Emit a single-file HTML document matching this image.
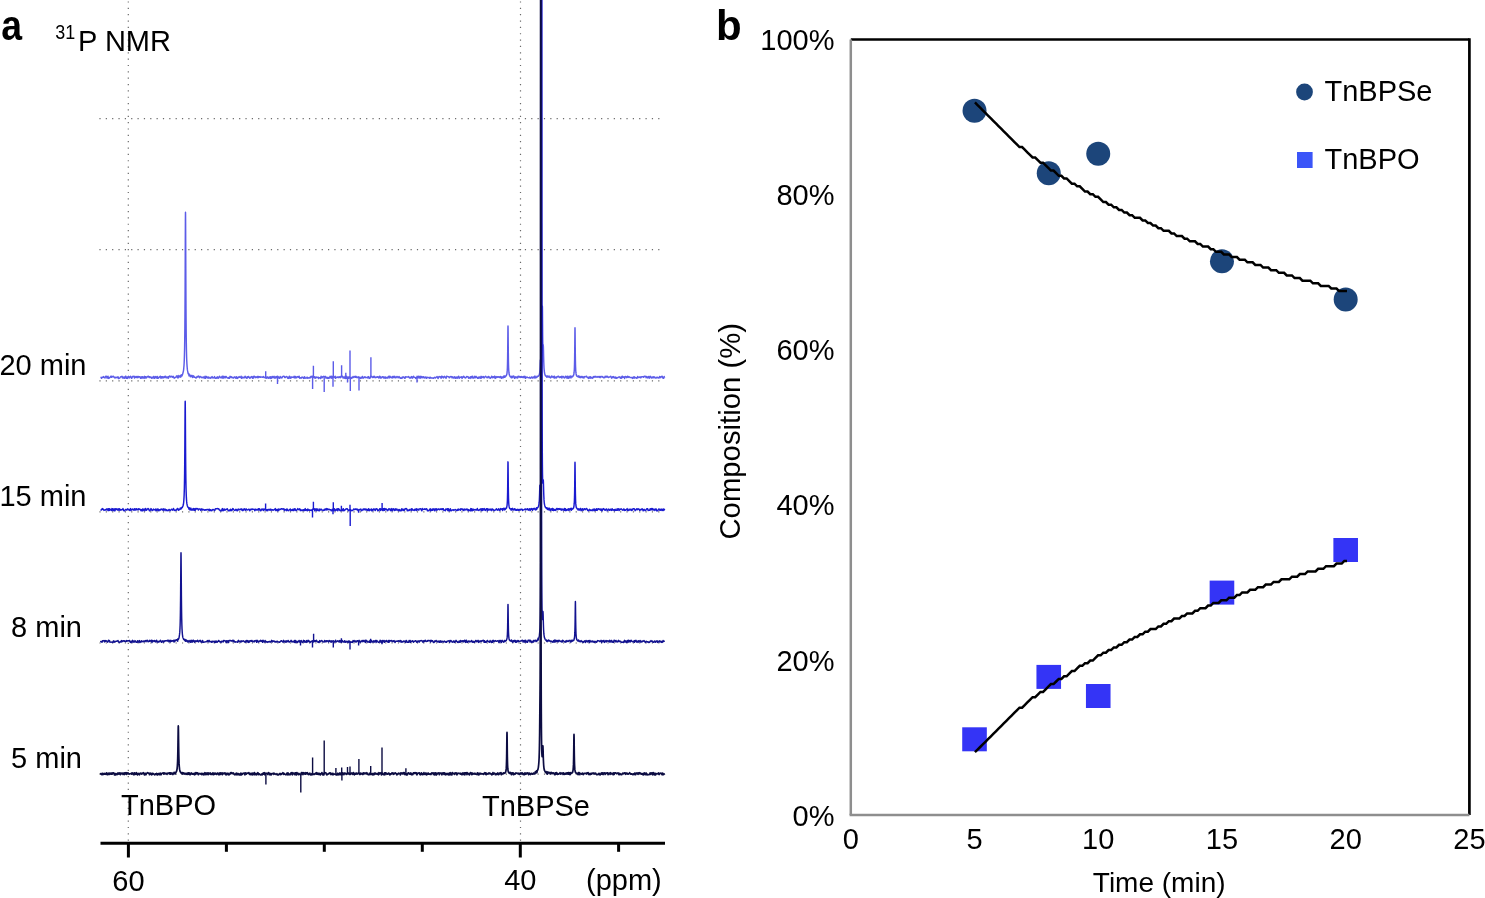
<!DOCTYPE html>
<html><head><meta charset="utf-8"><title>Figure</title>
<style>
html,body{margin:0;padding:0;background:#fff;}
body{width:1485px;height:898px;position:relative;overflow:hidden;font-family:"Liberation Sans", sans-serif;}
</style></head>
<body>
<svg width="1485" height="898" viewBox="0 0 1485 898" style="position:absolute;left:0;top:0;will-change:transform"><line x1="128.3" y1="1.4" x2="128.3" y2="842" stroke="#6a6a6a" stroke-width="1.2" stroke-dasharray="1.2 5.15"/><line x1="520.5" y1="1.4" x2="520.5" y2="842" stroke="#6a6a6a" stroke-width="1.2" stroke-dasharray="1.2 5.15"/><line x1="99.4" y1="118.6" x2="662" y2="118.6" stroke="#6a6a6a" stroke-width="1.2" stroke-dasharray="1.2 5.15"/><line x1="99.4" y1="249.7" x2="662" y2="249.7" stroke="#6a6a6a" stroke-width="1.2" stroke-dasharray="1.2 5.15"/><line x1="99.4" y1="380.8" x2="662" y2="380.8" stroke="#6a6a6a" stroke-width="1.2" stroke-dasharray="1.2 5.15"/><line x1="99.4" y1="511.9" x2="662" y2="511.9" stroke="#6a6a6a" stroke-width="1.2" stroke-dasharray="1.2 5.15"/><line x1="99.4" y1="643" x2="662" y2="643" stroke="#6a6a6a" stroke-width="1.2" stroke-dasharray="1.2 5.15"/><line x1="99.4" y1="774.1" x2="662" y2="774.1" stroke="#6a6a6a" stroke-width="1.2" stroke-dasharray="1.2 5.15"/><path d="M100.5,377.19 101,377.43 101.5,378.27 102,377.22 102.5,377.31 103,377.5 103.5,376.57 104,377.32 104.5,377.59 105,377.97 105.5,376.36 106,376.84 106.5,376.35 107,378.01 107.5,377.74 108,376.24 108.5,378.4 109,378.36 109.5,377.65 110,377.56 110.5,376.51 111,376.18 111.5,377.36 112,376.28 112.5,376.58 113,376.7 113.5,376.21 114,377.21 114.5,377.16 115,378.08 115.5,377.34 116,377.62 116.5,377.29 117,377.67 117.5,377.2 118,376.78 118.5,378.44 119,378.43 119.5,378.08 120,377.77 120.5,376.87 121,376.67 121.5,376.81 122,376.3 122.5,377.91 123,377.06 123.5,378.09 124,377.03 124.5,378.35 125,378.09 125.5,376.14 126,376.62 126.5,378.24 127,377.22 127.5,378.4 128,377.06 128.5,376.31 129,377.59 129.5,377.93 130,376.76 130.5,376.34 131,376.91 131.5,378.36 132,377.88 132.5,376.41 133,376.71 133.5,376.37 134,376.28 134.5,377.97 135,376.55 135.5,377.42 136,377.17 136.5,376.58 137,377.82 137.5,376.44 138,377.62 138.5,376.4 139,377.1 139.5,376.63 140,376.76 140.5,378.37 141,377.98 141.5,376.83 142,378.17 142.5,376.62 143,377.04 143.5,378.1 144,377.61 144.5,376.36 145,378.41 145.5,376.62 146,376.73 146.5,377.91 147,376.89 147.5,376.81 148,376.3 148.5,376.34 149,377.47 149.5,376.69 150,377.51 150.5,376.98 151,377.17 151.5,378.33 152,377.24 152.5,377.44 153,378.12 153.5,376.54 154,376.48 154.5,378.21 155,378 155.5,376.69 156,376.55 156.5,377.82 157,378.28 157.5,376.56 158,378.3 158.5,378.14 159,377.5 159.5,377.08 160,376.34 160.5,376.19 161,378.32 161.5,376.65 162,377.72 162.5,376.69 163,377.99 163.5,377.46 164,376.76 164.5,376.49 165,377.74 165.5,376.24 166,376.6 166.5,377.36 167,378.03 167.5,377.47 168,376.7 168.5,378.16 169,376.51 169.5,376.07 170,376.65 170.5,377.05 171,376.15 171.5,376.41 172,376.84 172.5,377.29 173,376.27 173.5,376.78 174,377.98 174.5,378.16 175,377.4 175.5,377.45 176,377.17 176.4,376.12 176.8,375.85 177.2,375.77 177.6,377.78 178,377.25 178.4,377.79 178.8,375.55 179.2,376.88 179.6,376.43 180,376.87 180.4,375.77 180.8,377.14 181.2,374.76 181.6,375.51 181.8,375.75 182,375.88 182.2,375.22 182.4,374.79 182.6,374.09 182.8,373.65 183,372.68 183.2,372.09 183.4,371.19 183.6,369.84 183.8,367.76 184,365.48 184.2,361.92 184.25,360.61 184.3,359.37 184.35,357.81 184.4,356.36 184.45,354.61 184.5,352.31 184.55,350.41 184.6,348.09 184.65,345.15 184.7,341.79 184.75,337.84 184.8,333.76 184.85,328.75 184.9,323 184.95,316.73 185,308.79 185.05,300.63 185.1,290.5 185.15,279.98 185.2,268.03 185.25,255.3 185.3,242.92 185.35,230.96 185.4,221.22 185.45,214.86 185.5,212.15 185.55,214.31 185.6,221.03 185.65,231.07 185.7,242.62 185.75,255.27 185.8,268.29 185.85,280.02 185.9,290.74 185.95,300.72 186,308.94 186.05,316.62 186.1,322.86 186.15,328.66 186.2,333.81 186.25,338.16 186.3,341.88 186.35,344.85 186.4,347.84 186.45,350.21 186.5,352.34 186.55,354.54 186.6,356.51 186.65,358.09 186.7,359.42 186.75,360.83 186.8,361.57 186.85,362.54 186.9,363.65 186.95,364.39 187,365.13 187.2,367.76 187.4,369.69 187.6,370.95 187.8,371.86 188,372.97 188.2,373.69 188.4,373.88 188.6,373.35 188.8,373.59 189,375.82 189.2,374.15 189.4,375.89 189.6,375.75 190,375.44 190.4,376.77 190.8,375.16 191.2,375.57 191.6,376.42 192,375.52 192.4,377.45 192.8,376.15 193.2,375.98 193.6,375.82 194,377.2 194.4,376.81 194.8,377.26 195.2,377.35 195.6,377.72 196.1,378.1 196.6,377.49 197.1,376.39 197.6,377.04 198.1,376.38 198.6,376.01 199.1,377.08 199.6,377.65 200.1,376.43 200.6,376.65 201.1,376.83 201.6,377.64 202.1,377.24 202.6,377.46 203.1,377.8 203.6,376.97 204.1,377.89 204.6,378.15 205.1,376.27 205.6,378.22 206.1,377.74 206.6,376.38 207.1,377.13 207.6,377.53 208.1,378.19 208.6,376.96 209.1,377.41 209.6,378.12 210.1,377.93 210.6,378.28 211.1,377.17 211.6,377.61 212.1,376.58 212.6,377.77 213.1,377.99 213.6,377.59 214.1,377.76 214.6,376.61 215.1,378.19 215.6,378.37 216.1,378.37 216.6,377.35 217.1,377.94 217.6,376.86 218.1,378.22 218.6,378.09 219.1,376.93 219.6,376.32 220.1,377.14 220.6,377.39 221.1,377.89 221.6,377.25 222.1,376.19 222.6,377.99 223.1,376.28 223.6,377.97 224.1,376.53 224.6,376.9 225.1,377.94 225.6,376.45 226.1,376.47 226.6,377.32 227.1,377.8 227.6,378.07 228.1,377.72 228.6,378.31 229.1,377.27 229.6,378.32 230.1,376.33 230.6,376.64 231.1,377.35 231.6,376.8 232.1,377.81 232.6,377.61 233.1,377.34 233.6,378.08 234.1,377.43 234.6,376.85 235.1,377.01 235.6,378.08 236.1,378.21 236.6,376.62 237.1,378.1 237.6,378.37 238.1,377.34 238.6,377.46 239.1,376.6 239.6,377.37 240.1,377.3 240.6,377.53 241.1,376.2 241.6,378.37 242.1,377.33 242.6,377.06 243.1,377.98 243.6,377.44 244.1,377.27 244.6,377.73 245.1,376.29 245.6,377.38 246.1,377.09 246.6,378.34 247.1,378.27 247.6,376.76 248.1,377.23 248.6,376.43 249.1,377.14 249.6,378.02 250.1,378.21 250.6,377.24 251.1,376.87 251.6,376.58 252.1,377.56 252.6,378.27 253.1,376.44 253.6,377.94 254.1,376.2 254.6,376.59 255.1,376.67 255.6,377.72 256.1,376.88 256.6,376.96 257.1,377.57 257.6,376.39 258.1,377.83 258.6,376.43 259.1,377.32 259.6,376.72 260.1,376.6 260.6,377.36 261.1,377.15 261.6,377.01 262.1,377.1 262.6,377.36 263.1,376.51 263.6,376.61 264.1,377.6 264.6,377.61 265.1,377.36 265.6,378.1 266.1,377.55 266.6,378.12 267.1,376.68 267.6,377.85 268.1,378.01 268.6,378.22 269.1,376.87 269.6,376.87 270.1,378.27 270.6,376.65 271.1,378.44 271.6,378.19 272.1,376.45 272.6,376.7 273.1,377.82 273.6,376.74 274.1,376.37 274.6,378.06 275.1,377.12 275.6,377.96 276.1,376.44 276.6,377.07 277.1,377.72 277.6,376.19 278.1,376.61 278.6,377.72 279.1,378.24 279.6,378.37 280.1,376.41 280.6,377.31 281.1,377.89 281.6,377.3 282.1,377.72 282.6,376.58 283.1,376.31 283.6,376.39 284.1,376.23 284.6,377.42 285.1,377.33 285.6,377.45 286.1,376.48 286.6,376.57 287.1,376.62 287.6,378.08 288.1,378.42 288.6,378.28 289.1,376.37 289.6,376.29 290.1,378.34 290.6,377.21 291.1,377.91 291.6,376.9 292.1,377.22 292.6,377.33 293.1,377.14 293.6,377.53 294.1,376.18 294.6,377.76 295.1,378.09 295.6,376.56 296.1,377.19 296.6,377.85 297.1,377.08 297.6,376.6 298.1,376.53 298.6,377.33 299.1,376.18 299.6,378.2 300.1,377.99 300.6,377.77 301.1,378.13 301.6,377.6 302.1,377.08 302.6,377.53 303.1,377.31 303.6,378.41 304.1,378 304.6,376.74 305.1,378.24 305.6,377.86 306.1,377.94 306.6,378.02 307.1,377.08 307.6,378.21 308.1,378.17 308.6,377.75 309.1,377.91 309.6,377.91 310.1,377.08 310.6,377.81 311.1,376.31 311.6,376.93 312.1,377.23 312.6,376.17 313.1,376.97 313.6,377.62 314.1,377.58 314.6,376.68 315.1,378.32 315.6,377.68 316.1,376.92 316.6,377.67 317.1,377.46 317.6,377.37 318.1,377.04 318.6,378.45 319.1,377.63 319.6,377.76 320.1,377.9 320.6,378.4 321.1,376.2 321.6,377.56 322.1,377.85 322.6,376.74 323.1,377.07 323.6,376.26 324.1,376.6 324.6,377.01 325.1,376.37 325.6,376.73 326.1,378.23 326.6,377.41 327.1,377.32 327.6,378.37 328.1,377.45 328.6,378.44 329.1,377.62 329.6,378.01 330.1,376.32 330.6,377.52 331.1,377.89 331.6,376.25 332.1,378.29 332.6,376.52 333.1,377.23 333.6,376.54 334.1,377.29 334.6,377.55 335.1,376.28 335.6,378.32 336.1,377.12 336.6,377.36 337.1,377.52 337.6,376.99 338.1,376.81 338.6,377.65 339.1,377.44 339.6,376.8 340.1,377.8 340.6,376.83 341.1,376.18 341.6,376.71 342.1,376.25 342.6,376.51 343.1,377.88 343.6,377.05 344.1,378.21 344.6,377.87 345.1,376.26 345.6,378.42 346.1,378.32 346.6,376.32 347.1,378.23 347.6,377.14 348.1,377.25 348.6,378.39 349.1,376.71 349.6,377.35 350.1,378.3 350.6,377.81 351.1,377.23 351.6,378.4 352.1,378.03 352.6,377.54 353.1,376.41 353.6,377.58 354.1,377.2 354.6,376.62 355.1,376.27 355.6,377.36 356.1,376.43 356.6,377.17 357.1,377.68 357.6,377.2 358.1,376.75 358.6,377.49 359.1,377.11 359.6,377.94 360.1,377.37 360.6,378.44 361.1,378.34 361.6,377.84 362.1,376.7 362.6,376.41 363.1,378.2 363.6,377.95 364.1,377.59 364.6,376.97 365.1,376.77 365.6,377.72 366.1,377.45 366.6,377.51 367.1,377.6 367.6,377.88 368.1,376.58 368.6,376.72 369.1,378.4 369.6,378.25 370.1,378.17 370.6,376.24 371.1,376.29 371.6,376.77 372.1,377.13 372.6,377.58 373.1,376.38 373.6,377.39 374.1,376.32 374.6,376.35 375.1,377.7 375.6,377.41 376.1,377.6 376.6,377.01 377.1,377.25 377.6,376.63 378.1,376.94 378.6,377.86 379.1,378.08 379.6,376.32 380.1,376.42 380.6,378.01 381.1,377.58 381.6,377.92 382.1,376.64 382.6,377.12 383.1,376.74 383.6,378.01 384.1,377 384.6,377.65 385.1,378.42 385.6,376.9 386.1,377.41 386.6,377.86 387.1,378.27 387.6,377.13 388.1,377 388.6,376.37 389.1,378.16 389.6,376.33 390.1,376.34 390.6,377.45 391.1,377.26 391.6,377.72 392.1,376.84 392.6,377.93 393.1,376.32 393.6,376.64 394.1,377.67 394.6,376.34 395.1,376.85 395.6,377.82 396.1,377.74 396.6,376.8 397.1,376.48 397.6,376.97 398.1,377.82 398.6,376.99 399.1,376.42 399.6,377.78 400.1,377.46 400.6,378.26 401.1,378.31 401.6,378.25 402.1,377.16 402.6,378 403.1,376.85 403.6,376.88 404.1,377.07 404.6,378.3 405.1,378.21 405.6,376.72 406.1,376.98 406.6,376.99 407.1,376.98 407.6,377.06 408.1,377.04 408.6,376.6 409.1,377.44 409.6,377.98 410.1,377.39 410.6,378.07 411.1,377.44 411.6,376.55 412.1,377.89 412.6,378.17 413.1,376.8 413.6,376.2 414.1,377.33 414.6,377.4 415.1,377.45 415.6,378.37 416.1,377.65 416.6,378 417.1,376.3 417.6,377.41 418.1,377.96 418.6,376.34 419.1,376.34 419.6,377.84 420.1,378.22 420.6,376.34 421.1,377.61 421.6,376.48 422.1,377.86 422.6,377.64 423.1,376.71 423.6,376.65 424.1,377.91 424.6,377.35 425.1,377.91 425.6,377.05 426.1,376.92 426.6,378.37 427.1,377.69 427.6,377.28 428.1,377.38 428.6,377.81 429.1,377.78 429.6,378.25 430.1,377.09 430.6,378.05 431.1,377.68 431.6,378.11 432.1,378 432.6,378.07 433.1,378.19 433.6,378.35 434.1,377.62 434.6,377.35 435.1,377.78 435.6,377.99 436.1,377.12 436.6,377.11 437.1,376.48 437.6,377.85 438.1,378.43 438.6,377.01 439.1,376.53 439.6,376.62 440.1,377.12 440.6,376.82 441.1,378.38 441.6,376.28 442.1,376.86 442.6,376.41 443.1,377.64 443.6,377.93 444.1,376.56 444.6,376.29 445.1,377.2 445.6,377.49 446.1,378.24 446.6,376.23 447.1,376.4 447.6,376.57 448.1,376.65 448.6,376.69 449.1,377.8 449.6,377.51 450.1,376.66 450.6,376.57 451.1,376.79 451.6,376.54 452.1,377.89 452.6,376.86 453.1,377.41 453.6,378.03 454.1,377.25 454.6,376.74 455.1,378.19 455.6,378.25 456.1,376.93 456.6,377.4 457.1,378.35 457.6,377.26 458.1,376.65 458.6,376.26 459.1,378.32 459.6,377.99 460.1,377.03 460.6,377.36 461.1,377.33 461.6,376.78 462.1,378.42 462.6,377.66 463.1,376.69 463.6,376.17 464.1,377.23 464.6,377 465.1,377.98 465.6,377.78 466.1,377.54 466.6,376.51 467.1,376.51 467.6,376.88 468.1,376.74 468.6,378.14 469.1,377.33 469.6,377.61 470.1,378.43 470.6,376.76 471.1,377.37 471.6,376.49 472.1,377.91 472.6,376.15 473.1,378.03 473.6,378.09 474.1,378.03 474.6,376.33 475.1,376.76 475.6,377.79 476.1,376.37 476.6,377.25 477.1,377.22 477.6,378.34 478.1,377.49 478.6,378.11 479.1,376.84 479.6,377.96 480.1,377.1 480.6,378.25 481.1,376.35 481.6,378.04 482.1,376.62 482.6,377.39 483.1,377.35 483.6,376.5 484.1,378.05 484.6,376.85 485.1,376.85 485.6,376.31 486.1,376.84 486.6,377.21 487.1,377.78 487.6,376.96 488.1,377.71 488.6,376.38 489.1,377.04 489.6,377.19 490.1,378.35 490.6,378.04 491.1,377.63 491.6,376.16 492.1,376.99 492.6,377.76 493.1,376.67 493.6,377.42 494.1,377.17 494.6,376.14 495.1,378.4 495.6,377.95 496.1,376.59 496.6,377.52 497.1,376.77 497.6,376.96 498.1,377.34 498.5,376.78 498.9,376.86 499.3,376.98 499.7,377.61 500.1,376.66 500.5,376.52 500.9,377.73 501.3,376.8 501.7,378.2 502.1,377.3 502.5,377.65 502.9,376.73 503.3,377.83 503.7,376.1 504.1,376.16 504.3,376.02 504.5,377.32 504.7,377.35 504.9,376.08 505.1,376.69 505.3,376.87 505.5,376.62 505.7,376.18 505.9,376.1 506.1,375.83 506.3,375.51 506.5,375.26 506.7,374.44 506.75,374.75 506.8,374.23 506.85,374.03 506.9,373.82 506.95,373.58 507,373.24 507.05,372.57 507.1,372.06 507.15,371.55 507.2,370.67 507.25,370.15 507.3,369.45 507.35,368.57 507.4,367.2 507.45,365.62 507.5,363.77 507.55,361.21 507.6,358.72 507.65,355.47 507.7,351.73 507.75,346.78 507.8,341.7 507.85,336.25 507.9,331.29 507.95,327.57 508,326.05 508.05,327.17 508.1,331.28 508.15,336.49 508.2,341.8 508.25,346.92 508.3,351.64 508.35,355.35 508.4,358.95 508.45,361.79 508.5,363.72 508.55,365.65 508.6,367.23 508.65,368.1 508.7,369.59 508.75,370.29 508.8,370.78 508.85,371.35 508.9,372 508.95,372.68 509,373.17 509.05,373.31 509.1,373.99 509.15,373.93 509.2,374.25 509.25,374.27 509.3,374.98 509.35,374.65 509.4,375.28 509.45,375.21 509.5,375.35 509.7,375.77 509.9,375.9 510.1,376.51 510.3,376.72 510.5,376.75 510.7,376.72 510.9,376.52 511.1,377.56 511.3,376.38 511.5,377.82 511.7,376.35 511.9,377.15 512.1,377.77 512.5,376.33 512.9,377.2 513.3,376.14 513.7,376.06 514.1,376.42 514.5,378.29 514.9,378.19 515.3,377.56 515.7,376.76 516.1,377.6 516.5,377.76 516.9,376.95 517.3,377.43 517.7,377.93 518.1,376.12 518.6,376.54 519.1,377.16 519.6,376.42 520.1,376.98 520.6,377.4 521.1,376.49 521.6,377.29 522.1,376.7 522.6,377.4 523.1,376.86 523.6,377.57 524.1,376.18 524.6,377.63 525.1,376.42 525.6,378.29 526.1,377.46 526.6,377.16 527.1,377.02 527.6,377.51 528.1,377.65 528.6,377.81 529.1,377.79 529.6,377.17 530.1,378.33 530.6,377.97 531,378 531.4,376.96 531.8,377.01 532.2,377.31 532.6,378.08 533,377.19 533.4,377.17 533.8,376.94 534.2,378.01 534.6,376.64 535,376 535.4,377.51 535.8,377.87 536.2,377.43 536.6,377.06 536.8,377.38 537,376.3 537.2,376.92 537.4,376.39 537.6,376.35 537.8,376.46 538,376.4 538.2,376.21 538.4,375.86 538.6,376.05 538.8,375.71 539,375.2 539.05,375.14 539.1,375.08 539.15,374.87 539.2,374.63 539.25,374.99 539.3,374.86 539.35,374.5 539.4,374.42 539.45,373.93 539.5,373.91 539.55,373.28 539.6,373.27 539.65,372.8 539.7,372.58 539.75,371.62 539.8,371.49 539.85,370.46 539.9,369.98 539.95,369.4 540,367.88 540.05,366.95 540.1,365.8 540.15,364.54 540.2,363.08 540.25,362.33 540.3,361.22 540.35,360.22 540.4,359.87 540.45,360.15 540.5,360.39 540.55,361.26 540.6,362.84 540.65,363.6 540.7,364.79 540.75,366.03 540.8,366.92 540.85,367.34 540.9,367.77 540.95,368.3 541,369.04 541.05,369.28 541.1,369.03 541.15,369.49 541.2,369.19 541.25,369.18 541.3,368.83 541.35,369.01 541.4,368.74 541.45,367.84 541.5,367.57 541.55,366.65 541.6,366.28 541.65,364.84 541.7,363.74 541.75,362.76 541.8,360.88 541.85,359.25 541.9,356.84 541.95,353.84 542,349.96 542.05,346 542.1,340.98 542.15,334.6 542.2,327.48 542.25,320.28 542.3,313.5 542.35,308.63 542.4,306.16 542.45,307.47 542.5,311.75 542.55,317.94 542.6,324.37 542.65,330.01 542.7,335.18 542.75,339.29 542.8,342.1 542.85,343.99 542.9,345.37 542.95,346.44 543,346.46 543.05,346.02 543.1,345.79 543.15,344.95 543.2,345.12 543.25,344.74 543.3,345.19 543.35,346.12 543.4,347.25 543.45,349.39 543.5,351.26 543.55,353.41 543.6,355.88 543.65,357.5 543.7,359.51 543.75,361.51 543.8,362.74 543.85,364.13 543.9,365.5 543.95,366.36 544,367.73 544.05,368.62 544.1,368.78 544.15,369.69 544.2,370.45 544.25,370.75 544.3,371.54 544.35,371.7 544.4,371.88 544.45,372.45 544.5,372.81 544.55,372.92 544.6,373.35 544.65,373.66 544.7,373.71 544.75,373.9 544.8,374.28 544.85,374.35 545.05,374.8 545.25,375.46 545.45,375.31 545.65,375.92 545.85,375.75 546.05,376.18 546.25,376.09 546.45,376.23 546.65,377.08 546.85,377.2 547.05,377.28 547.25,376.06 547.45,376.69 547.85,376.16 548.25,377.06 548.65,376.92 549.05,375.9 549.45,377.23 549.85,377.53 550.25,377.23 550.65,377.94 551.05,376.37 551.45,376.32 551.85,376.03 552.25,377.14 552.65,377.01 553.05,377.03 553.45,376.63 553.95,377.87 554.45,376.21 554.95,378.14 555.45,377.36 555.95,377.31 556.45,377.89 556.95,376.62 557.45,376.41 557.95,376.79 558.45,376.18 558.95,376.8 559.45,377.51 559.95,377.29 560.45,376.69 560.95,377.44 561.45,376.29 561.95,377.97 562.45,376.48 562.95,376.67 563.45,376.45 563.95,377.67 564.45,377.99 564.95,377.89 565.45,376.22 565.85,377.02 566.25,376.91 566.65,376.56 567.05,378.29 567.45,376.15 567.85,377.17 568.25,377.78 568.65,378.29 569.05,376.34 569.45,377.03 569.85,377.68 570.25,376.03 570.65,376.45 571.05,377.9 571.25,376.14 571.45,376.69 571.65,376.43 571.85,376.67 572.05,376.52 572.25,376.42 572.45,376.91 572.65,376.65 572.85,376.48 573.05,375.98 573.25,375.73 573.45,375.54 573.65,374.81 573.7,374.77 573.75,374.86 573.8,374.3 573.85,374.05 573.9,374.16 573.95,373.63 574,372.94 574.05,372.76 574.1,372.45 574.15,371.56 574.2,371.11 574.25,370.6 574.3,369.85 574.35,368.68 574.4,367.66 574.45,365.96 574.5,364.17 574.55,362.32 574.6,359.47 574.65,356.57 574.7,352.47 574.75,348.1 574.8,342.97 574.85,337.88 574.9,332.71 574.95,329.14 575,327.81 575.05,329.3 575.1,332.8 575.15,337.81 575.2,343.45 575.25,348.3 575.3,352.85 575.35,356.23 575.4,359.47 575.45,361.86 575.5,364.35 575.55,365.9 575.6,367.29 575.65,368.34 575.7,369.45 575.75,370.34 575.8,371.14 575.85,372.08 575.9,372.49 575.95,372.68 576,373.13 576.05,373.36 576.1,374.14 576.15,374.06 576.2,374.55 576.25,374.74 576.3,375.04 576.35,374.68 576.4,375.02 576.45,375.19 576.5,375.14 576.55,375.74 576.75,375.78 576.95,376.31 577.15,376.36 577.35,376.23 577.55,376.55 577.75,376.55 577.95,376.51 578.15,376.04 578.35,377.12 578.55,375.86 578.75,376.54 578.95,376.83 579.15,377.13 579.55,376.24 579.95,377.58 580.35,376.58 580.75,377.67 581.15,377.56 581.55,376.38 581.95,376.52 582.35,376.7 582.75,377.71 583.15,377.01 583.55,376.97 583.95,378.08 584.35,376.61 584.75,376.77 585.15,376.89 585.65,376.6 586.15,376.2 586.65,376.17 587.15,377.56 587.65,377.42 588.15,377.98 588.65,378.36 589.15,376.81 589.65,377.66 590.15,378.24 590.65,376.62 591.15,377.71 591.65,377.66 592.15,378.33 592.65,378.13 593.15,376.67 593.65,377.59 594.15,376.34 594.65,377.12 595.15,377.04 595.65,376.27 596.15,377.02 596.65,376.89 597.15,377.28 597.65,376.78 598.15,376.5 598.65,377.06 599.15,377.23 599.65,376.52 600.15,377.67 600.65,376.69 601.15,376.35 601.65,376.93 602.15,377.11 602.65,376.49 603.15,377.48 603.65,377.75 604.15,377.41 604.65,377.75 605.15,376.19 605.65,377.04 606.15,376.98 606.65,376.29 607.15,377.07 607.65,376.27 608.15,377.28 608.65,377.49 609.15,377.22 609.65,376.89 610.15,376.73 610.65,376.2 611.15,376.94 611.65,378.19 612.15,377.44 612.65,376.75 613.15,377.68 613.65,376.57 614.15,377.22 614.65,377.56 615.15,378.34 615.65,376.98 616.15,377.47 616.65,378.31 617.15,377.92 617.65,377.59 618.15,377.57 618.65,377.09 619.15,377.1 619.65,376.78 620.15,378.05 620.65,378.17 621.15,377.02 621.65,378.24 622.15,376.23 622.65,376.46 623.15,377.31 623.65,376.86 624.15,376.97 624.65,378.39 625.15,376.49 625.65,376.59 626.15,376.67 626.65,377.71 627.15,376.69 627.65,376.15 628.15,377.4 628.65,377.05 629.15,376.7 629.65,377.28 630.15,377.64 630.65,377.41 631.15,377.58 631.65,377.44 632.15,378.06 632.65,378.37 633.15,376.91 633.65,376.94 634.15,378.19 634.65,376.87 635.15,377.79 635.65,377.75 636.15,377.73 636.65,378.36 637.15,378.04 637.65,376.51 638.15,377.58 638.65,377.28 639.15,377.44 639.65,377 640.15,376.8 640.65,377.87 641.15,377.38 641.65,376.69 642.15,376.72 642.65,376.89 643.15,376.56 643.65,377.33 644.15,376.44 644.65,376.29 645.15,376.31 645.65,376.38 646.15,377.77 646.65,376.41 647.15,377.19 647.65,377.92 648.15,377.25 648.65,376.52 649.15,378.14 649.65,378.15 650.15,376.27 650.65,376.73 651.15,377.31 651.65,377.98 652.15,377.05 652.65,377.79 653.15,376.73 653.65,377.79 654.15,376.9 654.65,376.92 655.15,377.89 655.65,378.09 656.15,378.05 656.65,377.45 657.15,377.12 657.65,377.77 658.15,377.58 658.65,378.06 659.15,377.99 659.65,376.44 660.15,377.02 660.65,377.69 661.15,376.68 661.65,376.57 662.15,376.18 662.65,377.49 663.15,378.31 663.65,378.38 664.15,376.46 664.65,377.73" fill="none" stroke="#5c5ce8" stroke-width="1.45" stroke-linejoin="round"/><path d="M265.7,377.3V371.3M277.5,377.3V384M313.4,377.3V365.8M312.6,377.3V389M324.2,377.3V392M333.3,377.3V361.2M333,377.3V386.7M341.6,377.3V365.3M345.8,377.3V372.8M347.5,377.3V382.4M350,377.3V350.6M350.3,377.3V391M359,377.3V390.5M370.9,377.3V357.2M417,377.3V382.5" fill="none" stroke="#5c5ce8" stroke-width="1.4"/><path d="M100.5,509.64 101,510.06 101.5,510.08 102,508.88 102.5,508.57 103,509.41 103.5,509.18 104,510.41 104.5,510.14 105,509.93 105.5,509.83 106,510.07 106.5,508.88 107,509.56 107.5,508.92 108,510.63 108.5,508.68 109,510.43 109.5,508.72 110,510.13 110.5,509.32 111,509.48 111.5,510.48 112,508.59 112.5,508.69 113,510.65 113.5,509.72 114,508.76 114.5,510.82 115,510.72 115.5,508.8 116,509.52 116.5,508.86 117,509.26 117.5,509.97 118,508.92 118.5,510.15 119,508.66 119.5,508.94 120,510.42 120.5,509.47 121,509.51 121.5,509.92 122,509.64 122.5,509.43 123,508.61 123.5,510.22 124,510.77 124.5,510.79 125,510.07 125.5,509.36 126,509.38 126.5,510.13 127,510.09 127.5,508.81 128,509.08 128.5,509.38 129,509.72 129.5,510.41 130,509.69 130.5,508.61 131,510.44 131.5,509.53 132,509.74 132.5,509.05 133,509.53 133.5,509.44 134,510.32 134.5,508.78 135,509.81 135.5,508.95 136,510.14 136.5,508.63 137,509.18 137.5,509.33 138,510.01 138.5,508.66 139,509.6 139.5,509.02 140,509.19 140.5,509.64 141,510.75 141.5,509.65 142,510.74 142.5,508.92 143,510.66 143.5,509.38 144,508.97 144.5,510.26 145,510.64 145.5,508.55 146,509.15 146.5,510.31 147,509.32 147.5,509.09 148,508.56 148.5,508.63 149,509.96 149.5,510.8 150,510.83 150.5,509.69 151,508.59 151.5,509.27 152,510.34 152.5,510.45 153,510 153.5,509.06 154,509.74 154.5,509.63 155,509.97 155.5,509.13 156,510.7 156.5,510.58 157,508.9 157.5,509.19 158,510.53 158.5,509.16 159,510.69 159.5,509.71 160,510.12 160.5,510.14 161,509.01 161.5,509.17 162,509.1 162.5,510.08 163,510.11 163.5,508.81 164,510.55 164.5,509.47 165,509.06 165.5,509.5 166,510.75 166.5,509.78 167,509.93 167.5,510.6 168,510.7 168.5,510.23 169,509.44 169.5,509.83 170,510.54 170.5,510.28 171,509.79 171.5,509.25 172,509.29 172.5,510.12 173,509.72 173.5,508.45 174,510.03 174.5,510.46 175,510.2 175.5,510.41 175.9,510.42 176.3,509.54 176.7,510.1 177.1,509.13 177.5,508.45 177.9,509 178.3,508.87 178.7,510.25 179.1,509.62 179.5,509.21 179.9,509.3 180.3,508.04 180.7,508.84 181.1,509.03 181.5,508.07 181.7,507.57 181.9,507.75 182.1,507.33 182.3,507.58 182.5,506.92 182.7,506.47 182.9,506.08 183.1,505.64 183.3,504.79 183.5,503.54 183.7,502.06 183.9,499.35 183.95,498.39 184,497.83 184.05,496.87 184.1,495.68 184.15,494.81 184.2,493.31 184.25,491.77 184.3,490.16 184.35,488.63 184.4,485.92 184.45,483.67 184.5,480.79 184.55,477.5 184.6,473.91 184.65,469.49 184.7,464.98 184.75,459.09 184.8,452.82 184.85,445.35 184.9,437.7 184.95,429.5 185,421.3 185.05,413.15 185.1,406.81 185.15,402.73 185.2,401.2 185.25,402.36 185.3,406.85 185.35,413.45 185.4,421.03 185.45,429.54 185.5,437.82 185.55,445.83 185.6,452.73 185.65,459.2 185.7,464.64 185.75,469.8 185.8,473.85 185.85,477.68 185.9,480.84 185.95,483.63 186,485.99 186.05,488.2 186.1,490.29 186.15,491.78 186.2,493.13 186.25,494.89 186.3,495.74 186.35,497.17 186.4,497.9 186.45,498.61 186.5,499.65 186.55,500.35 186.6,500.62 186.65,501.06 186.7,501.88 186.9,503.65 187.1,504.7 187.3,505.69 187.5,506.14 187.7,506.79 187.9,506.99 188.1,507.41 188.3,507.46 188.5,507.7 188.7,507.93 188.9,509.02 189.1,507.69 189.3,507.89 189.7,508.2 190.1,509.99 190.5,509.07 190.9,508.08 191.3,509.96 191.7,510.11 192.1,510.04 192.5,509.02 192.9,509.92 193.3,508.96 193.7,508.6 194.1,510.3 194.5,510.24 194.9,508.83 195.3,510.39 195.8,508.44 196.3,509.1 196.8,508.44 197.3,508.81 197.8,508.8 198.3,510.08 198.8,509.13 199.3,508.89 199.8,508.88 200.3,509.18 200.8,510.45 201.3,509.87 201.8,508.72 202.3,510.06 202.8,509.72 203.3,509.52 203.8,509.71 204.3,510 204.8,510.34 205.3,509.66 205.8,509.97 206.3,509.58 206.8,509.97 207.3,509.4 207.8,509.47 208.3,509.7 208.8,510.16 209.3,509.16 209.8,510.65 210.3,509.65 210.8,510.49 211.3,510.11 211.8,510.72 212.3,510.09 212.8,509.51 213.3,509.46 213.8,509.92 214.3,510.26 214.8,510.46 215.3,508.83 215.8,508.67 216.3,508.78 216.8,508.72 217.3,508.66 217.8,508.55 218.3,509.11 218.8,508.79 219.3,510.11 219.8,509.95 220.3,510.76 220.8,510.74 221.3,510.25 221.8,510.72 222.3,508.6 222.8,509.06 223.3,510.67 223.8,509.63 224.3,509.01 224.8,510.28 225.3,509.51 225.8,509.79 226.3,509.26 226.8,509.09 227.3,508.74 227.8,509.93 228.3,510.73 228.8,510.81 229.3,510.3 229.8,510.69 230.3,509.37 230.8,509.23 231.3,510.66 231.8,509.92 232.3,510.08 232.8,508.57 233.3,509.07 233.8,509.65 234.3,510.22 234.8,510.44 235.3,510.28 235.8,509.32 236.3,509.42 236.8,510.53 237.3,510.82 237.8,509.66 238.3,508.99 238.8,509.98 239.3,509.78 239.8,509.38 240.3,509.07 240.8,509.43 241.3,509.95 241.8,508.84 242.3,509.79 242.8,510.73 243.3,510.26 243.8,509.12 244.3,509.51 244.8,508.78 245.3,510.24 245.8,510 246.3,508.94 246.8,509.81 247.3,509.92 247.8,509.87 248.3,509.42 248.8,509.26 249.3,509.36 249.8,510.84 250.3,509.3 250.8,509.7 251.3,509.6 251.8,508.94 252.3,509.46 252.8,509.02 253.3,509.29 253.8,509.39 254.3,509.35 254.8,510.7 255.3,509.23 255.8,509.31 256.3,510.06 256.8,509.46 257.3,509.73 257.8,510.04 258.3,508.72 258.8,510.09 259.3,508.78 259.8,509.12 260.3,510.41 260.8,510.82 261.3,510.1 261.8,508.94 262.3,509.55 262.8,509.2 263.3,510.48 263.8,509.08 264.3,509 264.8,510.01 265.3,510.01 265.8,509.9 266.3,509.65 266.8,510.75 267.3,509.6 267.8,510.7 268.3,509.45 268.8,509.62 269.3,509.37 269.8,510.19 270.3,510.28 270.8,509.1 271.3,509.76 271.8,510.22 272.3,509.7 272.8,510.07 273.3,509.96 273.8,510.19 274.3,509.36 274.8,509.25 275.3,508.6 275.8,510.59 276.3,510.36 276.8,509.44 277.3,510.77 277.8,510.62 278.3,508.9 278.8,510.47 279.3,509.52 279.8,509.27 280.3,509.14 280.8,509.5 281.3,508.67 281.8,508.66 282.3,508.82 282.8,509.25 283.3,508.91 283.8,508.83 284.3,510.46 284.8,509.42 285.3,509.68 285.8,509.93 286.3,510.69 286.8,508.88 287.3,509.07 287.8,510.53 288.3,510.64 288.8,510.69 289.3,509.76 289.8,509.39 290.3,508.98 290.8,510.64 291.3,510.31 291.8,509.82 292.3,510.37 292.8,509.15 293.3,509.78 293.8,510.63 294.3,508.8 294.8,509.97 295.3,508.97 295.8,510.47 296.3,510.48 296.8,510.03 297.3,509.55 297.8,508.6 298.3,509.68 298.8,509.37 299.3,509.47 299.8,508.73 300.3,510.66 300.8,509.75 301.3,509.84 301.8,510.49 302.3,510.61 302.8,509.81 303.3,509.8 303.8,510.5 304.3,509.4 304.8,510.62 305.3,508.6 305.8,510.38 306.3,509.76 306.8,509.98 307.3,510.83 307.8,509.05 308.3,509.49 308.8,510.39 309.3,510.27 309.8,509.75 310.3,510.34 310.8,510.11 311.3,510.55 311.8,510.04 312.3,509.38 312.8,509.21 313.3,508.74 313.8,508.83 314.3,508.65 314.8,510.79 315.3,508.87 315.8,509.93 316.3,508.86 316.8,510.77 317.3,509.77 317.8,508.96 318.3,510.45 318.8,510.53 319.3,510.8 319.8,509.06 320.3,509.47 320.8,510.07 321.3,509.2 321.8,509.86 322.3,510.16 322.8,510.28 323.3,510.44 323.8,510.28 324.3,509.2 324.8,510.29 325.3,509.55 325.8,508.94 326.3,508.6 326.8,509.98 327.3,509.37 327.8,508.76 328.3,509.68 328.8,509.5 329.3,509.3 329.8,509.85 330.3,509.79 330.8,509.77 331.3,510.82 331.8,510.63 332.3,509.24 332.8,510.55 333.3,509.27 333.8,510.7 334.3,508.68 334.8,509.28 335.3,510.69 335.8,510.07 336.3,510.17 336.8,509.02 337.3,508.83 337.8,510.76 338.3,508.7 338.8,508.95 339.3,509.54 339.8,510.43 340.3,510.11 340.8,510.84 341.3,510.34 341.8,509.55 342.3,510.64 342.8,509.28 343.3,508.67 343.8,510.75 344.3,510.58 344.8,510.07 345.3,509.65 345.8,509.02 346.3,509.05 346.8,508.7 347.3,508.76 347.8,509.65 348.3,510.61 348.8,510.69 349.3,509.73 349.8,510.1 350.3,509.62 350.8,510.33 351.3,510.17 351.8,510.81 352.3,510.49 352.8,510.11 353.3,509.91 353.8,508.94 354.3,509.63 354.8,509.58 355.3,508.9 355.8,509.01 356.3,509.49 356.8,508.95 357.3,509.98 357.8,509.3 358.3,510.82 358.8,510.12 359.3,509.74 359.8,509.55 360.3,509.45 360.8,509.01 361.3,510.76 361.8,510.65 362.3,510.04 362.8,510.04 363.3,508.88 363.8,509.79 364.3,508.93 364.8,509.29 365.3,509.9 365.8,508.94 366.3,509.08 366.8,510.23 367.3,509.66 367.8,510.59 368.3,508.91 368.8,508.75 369.3,510.71 369.8,509.95 370.3,510.14 370.8,509.83 371.3,508.89 371.8,510.8 372.3,509.69 372.8,510.64 373.3,508.88 373.8,509.18 374.3,509.81 374.8,509.12 375.3,510.53 375.8,509.15 376.3,508.73 376.8,508.92 377.3,509.17 377.8,510.73 378.3,510.57 378.8,510.09 379.3,509.53 379.8,508.64 380.3,510.46 380.8,508.84 381.3,509.01 381.8,509.55 382.3,510.53 382.8,508.97 383.3,508.69 383.8,510.63 384.3,508.57 384.8,510.24 385.3,508.87 385.8,509.24 386.3,509.03 386.8,509.56 387.3,510.67 387.8,510.48 388.3,509.78 388.8,508.75 389.3,508.95 389.8,509.23 390.3,510.37 390.8,510.65 391.3,508.61 391.8,509.32 392.3,510.76 392.8,508.9 393.3,508.73 393.8,509.16 394.3,510.59 394.8,509.15 395.3,510.21 395.8,508.82 396.3,510.06 396.8,508.94 397.3,509.92 397.8,510.26 398.3,510.57 398.8,509.55 399.3,510.81 399.8,509.48 400.3,510.73 400.8,510.65 401.3,510.84 401.8,508.79 402.3,509.18 402.8,510.15 403.3,510.58 403.8,509.14 404.3,510.31 404.8,509.64 405.3,508.56 405.8,508.74 406.3,508.56 406.8,509.07 407.3,510.69 407.8,510.11 408.3,510.53 408.8,510.65 409.3,509.45 409.8,510.15 410.3,510.05 410.8,510.14 411.3,508.76 411.8,510.59 412.3,508.91 412.8,509.57 413.3,510.13 413.8,510.26 414.3,510.45 414.8,509.27 415.3,509.23 415.8,510.22 416.3,508.66 416.8,510.56 417.3,509.27 417.8,509.45 418.3,509.27 418.8,510.19 419.3,508.95 419.8,508.86 420.3,508.7 420.8,508.85 421.3,509.98 421.8,510.82 422.3,508.56 422.8,509.61 423.3,509.36 423.8,509.26 424.3,509.34 424.8,508.8 425.3,509.52 425.8,509.16 426.3,508.68 426.8,508.86 427.3,510.68 427.8,510.2 428.3,510.81 428.8,510.42 429.3,510.25 429.8,509.07 430.3,508.8 430.8,510.81 431.3,510.12 431.8,510.21 432.3,508.88 432.8,510.37 433.3,509.78 433.8,508.75 434.3,509.03 434.8,510.77 435.3,509.98 435.8,508.76 436.3,508.73 436.8,510.27 437.3,509.36 437.8,509.65 438.3,508.86 438.8,508.96 439.3,509.69 439.8,509.53 440.3,508.97 440.8,508.89 441.3,509.57 441.8,508.81 442.3,508.69 442.8,509.63 443.3,508.66 443.8,510.23 444.3,510.31 444.8,510.17 445.3,510.73 445.8,508.93 446.3,509.52 446.8,509.5 447.3,508.71 447.8,510.52 448.3,508.64 448.8,510.81 449.3,510.1 449.8,510.81 450.3,508.68 450.8,510.6 451.3,510.76 451.8,510.33 452.3,509.88 452.8,510.04 453.3,509.65 453.8,510.51 454.3,509.87 454.8,509.8 455.3,509.48 455.8,509.99 456.3,509.89 456.8,510.71 457.3,510.32 457.8,509.3 458.3,510.2 458.8,509.08 459.3,509.65 459.8,509.75 460.3,510.22 460.8,508.71 461.3,508.88 461.8,508.96 462.3,509.97 462.8,508.94 463.3,509.83 463.8,510.57 464.3,509.53 464.8,509.06 465.3,509.92 465.8,509.49 466.3,509.55 466.8,508.95 467.3,510.11 467.8,509.34 468.3,510.81 468.8,509.68 469.3,510.11 469.8,510.67 470.3,510.8 470.8,508.59 471.3,510.67 471.8,508.78 472.3,510.72 472.8,510.35 473.3,509.13 473.8,510.19 474.3,509.83 474.8,509.58 475.3,509.98 475.8,509.59 476.3,510.05 476.8,510.14 477.3,508.55 477.8,510.01 478.3,510.16 478.8,510.53 479.3,509.77 479.8,509.78 480.3,508.87 480.8,508.99 481.3,510.6 481.8,508.68 482.3,510.61 482.8,508.82 483.3,509.42 483.8,509.97 484.3,508.6 484.8,509.56 485.3,510.37 485.8,509.42 486.3,508.94 486.8,508.67 487.3,510.71 487.8,508.77 488.3,510.07 488.8,509.99 489.3,509.17 489.8,509.81 490.3,510.1 490.8,509 491.3,509.09 491.8,510.65 492.3,509 492.8,509.64 493.3,509.56 493.8,510.3 494.3,510.49 494.8,510.27 495.3,509.95 495.8,509.75 496.3,508.72 496.8,509.82 497.3,509.49 497.8,510.23 498.3,509.35 498.7,508.77 499.1,509.36 499.5,510.39 499.9,509.61 500.3,510 500.7,508.58 501.1,508.95 501.5,509.04 501.9,509.53 502.3,508.67 502.7,510.55 503.1,509.11 503.5,508.32 503.9,508.83 504.3,509.37 504.5,509.6 504.7,510.01 504.9,508.29 505.1,509.46 505.3,509.31 505.5,509.01 505.7,508.97 505.9,508.61 506.1,508.31 506.3,507.94 506.5,508.12 506.55,507.95 506.6,507.55 506.65,507.49 506.7,507.25 506.75,507.19 506.8,506.63 506.85,506.79 506.9,506.18 506.95,506.13 507,505.81 507.05,505.56 507.1,504.97 507.15,504.2 507.2,503.98 507.25,503.02 507.3,502.31 507.35,501.48 507.4,500.42 507.45,498.5 507.5,497.02 507.55,494.89 507.6,492.71 507.65,489.41 507.7,486.07 507.75,481.7 507.8,476.6 507.85,471.67 507.9,466.85 507.95,463.03 508,461.85 508.05,463.05 508.1,466.94 508.15,471.45 508.2,476.53 508.25,481.65 508.3,486.12 508.35,489.26 508.4,492.62 508.45,494.83 508.5,497.22 508.55,498.88 508.6,500.3 508.65,501.35 508.7,502.05 508.75,503.31 508.8,503.56 508.85,504.44 508.9,505.18 508.95,505.21 509,505.72 509.05,506.18 509.1,506.46 509.15,506.53 509.2,506.82 509.25,507.31 509.3,507.39 509.35,507.23 509.4,507.69 509.45,507.93 509.5,507.9 509.7,508.47 509.9,508.37 510.1,508.59 510.3,509.09 510.5,508.85 510.7,508.86 510.9,508.95 511.1,510.11 511.3,510.02 511.5,508.63 511.7,509.91 511.9,508.69 512.1,509.69 512.5,508.33 512.9,509.66 513.3,510.09 513.7,509.54 514.1,509.84 514.5,508.68 514.9,509.47 515.3,510.23 515.7,509.29 516.1,510.15 516.5,509.82 516.9,510.31 517.3,510.15 517.7,509.16 518.1,510.34 518.6,510.34 519.1,509.44 519.6,510.11 520.1,509.41 520.6,509.79 521.1,509.21 521.6,509.52 522.1,509.17 522.6,510.51 523.1,509.86 523.6,509.86 524.1,509.65 524.6,509.51 525.1,508.84 525.6,509.92 526.1,509.45 526.6,509.21 527.1,509.59 527.6,508.7 528.1,509.88 528.6,510.18 529.1,509.21 529.6,508.72 530.1,510.56 530.5,509.75 530.9,509.04 531.3,508.49 531.7,509.58 532.1,508.75 532.5,510.28 532.9,509.83 533.3,508.79 533.7,509.04 534.1,508.26 534.5,508.52 534.9,509.22 535.3,509.88 535.7,508.73 536.1,509.84 536.3,508.14 536.5,507.7 536.7,509.3 536.9,508.33 537.1,508.15 537.3,508.1 537.5,508.02 537.7,507.57 537.9,507.24 538.1,507.21 538.3,506.84 538.5,506.25 538.55,505.85 538.6,506.1 538.65,505.66 538.7,505.52 538.75,505.51 538.8,504.81 538.85,504.77 538.9,504.43 538.95,504.24 539,503.63 539.05,503.24 539.1,502.79 539.15,502.48 539.2,501.76 539.25,501.49 539.3,500.73 539.35,499.81 539.4,498.67 539.45,497.84 539.5,496.46 539.55,495.21 539.6,493.79 539.65,491.66 539.7,490.37 539.75,488.82 539.8,487.1 539.85,485.98 539.9,485.18 539.95,485.6 540,485.56 540.05,486.15 540.1,487.08 540.15,488.24 540.2,489.17 540.25,489.97 540.3,490.3 540.35,490.22 540.4,490.75 540.45,490.53 540.5,490.07 540.55,489.47 540.6,488.53 540.65,487.26 540.7,485.84 540.75,483.58 540.8,481.94 540.85,478.64 540.9,475.6 540.95,471.67 541,466.67 541.05,460.39 541.1,452.71 541.15,442.61 541.2,429.79 541.25,411.97 541.3,388.17 541.35,354.18 541.4,303.26 541.45,223.4 541.5,90.68 541.55,-3 541.85,-3 541.9,90.39 541.95,223.37 542,302.6 542.05,353.61 542.1,387.7 542.15,411.5 542.2,428.79 542.25,441.33 542.3,451.11 542.35,459.03 542.4,464.95 542.45,469.51 542.5,473.24 542.55,475.88 542.6,478.55 542.65,480.06 542.7,481.7 542.75,482.47 542.8,483.29 542.85,483.29 542.9,483.35 542.95,483.3 543,482.65 543.05,481.68 543.1,481.43 543.15,480.13 543.2,479.85 543.25,479.84 543.3,480.01 543.35,480.79 543.4,482.13 543.45,483.18 543.5,485.2 543.55,486.92 543.6,489 543.65,490.7 543.7,492.46 543.75,494.08 543.8,495.27 543.85,496.45 543.9,497.61 543.95,498.35 544,499.65 544.05,500.1 544.1,500.85 544.15,501.66 544.2,502.2 544.25,502.79 544.3,503.06 544.35,503.36 544.4,503.66 544.45,504.2 544.5,504.41 544.55,504.32 544.6,504.9 544.65,505.2 544.7,505.23 544.75,505.72 544.8,505.85 544.85,506.11 545.05,506.33 545.25,507.01 545.45,507.31 545.65,507.46 545.85,507.67 546.05,507.75 546.25,508.36 546.45,507.79 546.65,508.08 546.85,507.97 547.05,508.76 547.25,508.7 547.45,509.63 547.85,507.94 548.25,508.65 548.65,509.86 549.05,509.83 549.45,508.21 549.85,509.14 550.25,510.43 550.65,510.44 551.05,508.95 551.45,509.95 551.85,509.03 552.25,508.44 552.65,510.37 553.05,508.61 553.45,510.62 553.95,509.39 554.45,510.33 554.95,509.47 555.45,510.46 555.95,510.12 556.45,508.8 556.95,508.47 557.45,508.81 557.95,509.82 558.45,508.69 558.95,508.61 559.45,509.32 559.95,508.57 560.45,509.16 560.95,509.9 561.45,508.98 561.95,510.28 562.45,509.06 562.95,509.3 563.45,509.39 563.95,510.41 564.45,508.57 564.95,510.32 565.45,508.67 565.85,510.68 566.25,509.73 566.65,510.17 567.05,509.62 567.45,509.97 567.85,510.01 568.25,508.75 568.65,508.85 569.05,510.48 569.45,508.88 569.85,508.91 570.25,508.45 570.65,509.93 571.05,510.06 571.25,508.3 571.45,510.17 571.65,508.41 571.85,509.24 572.05,509.2 572.25,508.97 572.45,508.92 572.65,508.91 572.85,508.94 573.05,508.43 573.25,508.17 573.45,508.26 573.65,507.31 573.7,507.05 573.75,507.37 573.8,507.16 573.85,506.5 573.9,506.43 573.95,506.34 574,505.68 574.05,505.31 574.1,504.67 574.15,504.23 574.2,503.93 574.25,503.17 574.3,502.58 574.35,501.37 574.4,500.12 574.45,498.81 574.5,496.99 574.55,495.17 574.6,492.83 574.65,489.54 574.7,486.17 574.75,482.18 574.8,477.18 574.85,471.88 574.9,467.37 574.95,463.61 575,462.34 575.05,464.03 575.1,467.41 575.15,472.07 575.2,477.1 575.25,481.79 575.3,486.33 575.35,489.74 575.4,492.91 575.45,495.32 575.5,497.11 575.55,499.06 575.6,500.17 575.65,501.47 575.7,502.57 575.75,503.45 575.8,503.94 575.85,504.28 575.9,504.76 575.95,505.6 576,505.67 576.05,505.91 576.1,506.46 576.15,506.63 576.2,507.05 576.25,506.92 576.3,507.3 576.35,507.73 576.4,507.41 576.45,507.68 576.5,507.8 576.55,507.75 576.75,508.12 576.95,508.48 577.15,508.81 577.35,508.7 577.55,509.12 577.75,509.05 577.95,509.08 578.15,510.06 578.35,509.86 578.55,509.22 578.75,508.83 578.95,509.43 579.15,509.78 579.55,510.07 579.95,509.88 580.35,508.39 580.75,508.77 581.15,510.71 581.55,509.69 581.95,509.63 582.35,508.72 582.75,510.27 583.15,510.37 583.55,509.19 583.95,509.1 584.35,508.65 584.75,509.19 585.15,509.67 585.65,509.53 586.15,508.52 586.65,508.73 587.15,509.05 587.65,510.42 588.15,510.73 588.65,510.5 589.15,509.65 589.65,509.35 590.15,510.58 590.65,510.26 591.15,510.01 591.65,510.13 592.15,510.68 592.65,509.74 593.15,509.11 593.65,510.21 594.15,510.67 594.65,509.05 595.15,509.41 595.65,510.28 596.15,510.37 596.65,508.65 597.15,510.39 597.65,509.09 598.15,508.82 598.65,508.65 599.15,509.6 599.65,509.58 600.15,508.96 600.65,510.17 601.15,508.96 601.65,510.67 602.15,510.83 602.65,509.3 603.15,508.59 603.65,508.7 604.15,509.77 604.65,509.35 605.15,510.33 605.65,509.48 606.15,509.13 606.65,508.91 607.15,510.82 607.65,510.3 608.15,510.1 608.65,509.05 609.15,509.56 609.65,510.28 610.15,510.03 610.65,509.18 611.15,509.35 611.65,510.41 612.15,508.67 612.65,510.03 613.15,510.17 613.65,509.73 614.15,509.81 614.65,510.67 615.15,509.29 615.65,510.27 616.15,510.2 616.65,510.24 617.15,508.7 617.65,510.14 618.15,509.41 618.65,508.84 619.15,510.63 619.65,509.15 620.15,509.61 620.65,509.25 621.15,508.8 621.65,509.21 622.15,509.95 622.65,510.01 623.15,510.26 623.65,508.89 624.15,509.17 624.65,510.45 625.15,509.75 625.65,510.24 626.15,509.61 626.65,509.51 627.15,508.62 627.65,510.48 628.15,510.63 628.65,510.19 629.15,509.04 629.65,509.99 630.15,510.11 630.65,509.19 631.15,509.41 631.65,510.59 632.15,509.15 632.65,509.95 633.15,508.65 633.65,508.6 634.15,508.64 634.65,509.25 635.15,510.68 635.65,509.87 636.15,509.66 636.65,508.88 637.15,509.83 637.65,508.84 638.15,508.7 638.65,509.31 639.15,509.14 639.65,510.35 640.15,509.84 640.65,510.02 641.15,509.19 641.65,509.45 642.15,508.81 642.65,509.21 643.15,510.83 643.65,510.09 644.15,509.32 644.65,509.99 645.15,510.64 645.65,510.41 646.15,509.75 646.65,508.91 647.15,508.67 647.65,508.71 648.15,510.43 648.65,510.34 649.15,510.16 649.65,510.21 650.15,508.87 650.65,509.88 651.15,508.57 651.65,508.62 652.15,509.97 652.65,508.56 653.15,509.5 653.65,509.36 654.15,510.55 654.65,509.35 655.15,509.02 655.65,510.11 656.15,508.9 656.65,510.8 657.15,510.67 657.65,510.83 658.15,509.97 658.65,508.96 659.15,509.01 659.65,510.19 660.15,509.56 660.65,510.17 661.15,509.03 661.65,509.86 662.15,510.51 662.65,509.21 663.15,510.47 663.65,508.88 664.15,510.08 664.65,508.64" fill="none" stroke="#1a1ad0" stroke-width="1.45" stroke-linejoin="round"/><path d="M265.6,509.7V503.4M313.4,509.7V501.7M312.5,509.7V517.4M333.3,509.7V502.2M333,509.7V514.3M341.4,509.7V505.8M350,509.7V504.7M350.2,509.7V526M358.6,509.7V512.8M382.1,509.7V503" fill="none" stroke="#1a1ad0" stroke-width="1.4"/><path d="M100.5,640.84 101,641.82 101.5,641.82 102,642.2 102.5,640.67 103,640.78 103.5,640.59 104,640.77 104.5,641.94 105,640.55 105.5,641.47 106,640.74 106.5,640.92 107,641.24 107.5,642.17 108,641.65 108.5,640.28 109,640.88 109.5,640.58 110,642.25 110.5,642.11 111,642.1 111.5,642.15 112,641.96 112.5,642.43 113,642.07 113.5,640.84 114,642.2 114.5,641.37 115,641.98 115.5,641.54 116,641.23 116.5,641.08 117,641.23 117.5,640.97 118,640.52 118.5,642.13 119,642.08 119.5,642.51 120,641.83 120.5,641.52 121,641.97 121.5,640.56 122,641.8 122.5,641.27 123,640.65 123.5,640.71 124,641.45 124.5,640.83 125,641.3 125.5,641.64 126,641.15 126.5,640.55 127,641.37 127.5,640.79 128,640.79 128.5,640.69 129,641.09 129.5,640.41 130,641.74 130.5,642.44 131,641.14 131.5,641.9 132,642.39 132.5,640.34 133,640.57 133.5,642.1 134,642.17 134.5,641.71 135,640.61 135.5,641.19 136,642.24 136.5,642.28 137,642.09 137.5,640.71 138,642.2 138.5,641.1 139,641.89 139.5,640.56 140,642.47 140.5,641.63 141,641.9 141.5,640.73 142,641.66 142.5,641.58 143,641.6 143.5,641.07 144,641.91 144.5,641.02 145,640.92 145.5,640.62 146,641.81 146.5,640.49 147,640.76 147.5,640.39 148,641.72 148.5,641.51 149,641.48 149.5,640.32 150,641.24 150.5,641.02 151,640.45 151.5,640.24 152,642.53 152.5,640.51 153,640.92 153.5,640.85 154,641.6 154.5,640.41 155,641.31 155.5,641.07 156,642.14 156.5,640.24 157,640.99 157.5,641.36 158,642.45 158.5,641.41 159,641.31 159.5,641.76 160,640.9 160.5,640.29 161,641.36 161.5,642.3 162,641.9 162.5,640.8 163,641.77 163.5,642.15 164,640.79 164.5,641.54 165,641.01 165.5,640.75 166,640.84 166.5,640.64 167,640.98 167.5,640.25 168,641.07 168.5,640.35 169,641.89 169.5,641.51 170,640.13 170.5,641.89 171,640.53 171.5,641.18 171.9,641.34 172.3,640.81 172.7,640.69 173.1,641 173.5,640.29 173.9,641.93 174.3,640.16 174.7,641.75 175.1,640.31 175.5,640.43 175.9,640.55 176.3,639.63 176.7,639.71 177.1,640.07 177.3,640.14 177.5,641.01 177.7,641.12 177.9,638.76 178.1,639.6 178.3,639.09 178.5,639.16 178.7,638.44 178.9,638.24 179.1,637.31 179.3,636.09 179.5,634.68 179.7,632.89 179.75,632.65 179.8,631.54 179.85,630.98 179.9,630.08 179.95,629.11 180,628.33 180.05,626.77 180.1,625.72 180.15,624.15 180.2,622.56 180.25,620.31 180.3,618.25 180.35,615.33 180.4,612.37 180.45,608.91 180.5,605.03 180.55,600.48 180.6,594.81 180.65,589.01 180.7,582.88 180.75,576.31 180.8,569.36 180.85,562.88 180.9,558.02 180.95,554.11 181,552.75 181.05,553.97 181.1,557.46 181.15,563.14 181.2,569.1 181.25,576.26 181.3,583.08 181.35,589.53 181.4,595.23 181.45,600.2 181.5,604.9 181.55,609.04 181.6,612.46 181.65,615.24 181.7,618.16 181.75,620.06 181.8,622.18 181.85,624.35 181.9,625.57 181.95,626.81 182,628.32 182.05,629.18 182.1,629.85 182.15,630.71 182.2,631.61 182.25,632.33 182.3,633.31 182.35,633.45 182.4,634.31 182.45,634.77 182.5,634.92 182.7,636.61 182.9,637.44 183.1,637.99 183.3,638.4 183.5,638.95 183.7,639.55 183.9,639.61 184.1,639.1 184.3,639.7 184.5,640.09 184.7,639.56 184.9,640.55 185.1,639.41 185.5,641.38 185.9,640.02 186.3,639.93 186.7,641.13 187.1,640.54 187.5,641.92 187.9,641.07 188.3,641.16 188.7,641.91 189.1,640.51 189.5,641.75 189.9,641.55 190.3,641.06 190.7,642.29 191.1,640.15 191.6,642.09 192.1,640.45 192.6,642.07 193.1,640.5 193.6,640.27 194.1,641.31 194.6,642.29 195.1,640.76 195.6,641.3 196.1,641.58 196.6,640.75 197.1,641.41 197.6,640.22 198.1,641.23 198.6,641.95 199.1,640.98 199.6,640.71 200.1,640.32 200.6,641.82 201.1,641.19 201.6,642.32 202.1,641.92 202.6,640.45 203.1,642.32 203.6,642.36 204.1,642.1 204.6,642.13 205.1,641.79 205.6,641.88 206.1,641.76 206.6,641.58 207.1,640.82 207.6,640.53 208.1,641.9 208.6,641.6 209.1,640.36 209.6,641.71 210.1,641.63 210.6,641.41 211.1,642.02 211.6,642.25 212.1,641.11 212.6,642.11 213.1,641.38 213.6,641.55 214.1,641.19 214.6,642.38 215.1,641.26 215.6,642.43 216.1,641.02 216.6,641.78 217.1,642.34 217.6,641.81 218.1,641.1 218.6,640.42 219.1,641.34 219.6,641.19 220.1,642.11 220.6,642.04 221.1,642.51 221.6,641.27 222.1,641.18 222.6,641.54 223.1,641.97 223.6,640.42 224.1,640.74 224.6,640.58 225.1,640.99 225.6,640.93 226.1,642.47 226.6,640.72 227.1,642.39 227.6,640.92 228.1,640.71 228.6,642.48 229.1,640.45 229.6,640.5 230.1,640.54 230.6,640.4 231.1,641.13 231.6,640.73 232.1,640.61 232.6,640.28 233.1,641.85 233.6,640.36 234.1,640.78 234.6,641.54 235.1,642.28 235.6,641.76 236.1,641.87 236.6,641.86 237.1,642.08 237.6,642.21 238.1,640.6 238.6,640.37 239.1,641.67 239.6,641.44 240.1,641.44 240.6,642.04 241.1,640.65 241.6,641.87 242.1,641.23 242.6,641.22 243.1,640.81 243.6,640.89 244.1,641.58 244.6,641.52 245.1,642.33 245.6,640.89 246.1,641.89 246.6,640.47 247.1,641.75 247.6,640.62 248.1,642.22 248.6,642.47 249.1,640.83 249.6,642.11 250.1,640.75 250.6,640.95 251.1,640.48 251.6,641.26 252.1,640.49 252.6,641.87 253.1,641.57 253.6,641.21 254.1,641.88 254.6,640.78 255.1,641.01 255.6,641.08 256.1,640.25 256.6,642.29 257.1,640.45 257.6,640.48 258.1,642.08 258.6,642.13 259.1,641.28 259.6,641.22 260.1,640.57 260.6,640.25 261.1,641.44 261.6,640.81 262.1,640.59 262.6,642.33 263.1,640.29 263.6,641.08 264.1,641.98 264.6,641.96 265.1,640.49 265.6,641.95 266.1,641.54 266.6,641.7 267.1,642.42 267.6,642.08 268.1,641.63 268.6,642.02 269.1,641.38 269.6,641.52 270.1,642.13 270.6,641.67 271.1,641.11 271.6,640.29 272.1,642.06 272.6,641.03 273.1,641.23 273.6,640.91 274.1,641.53 274.6,641.17 275.1,642.17 275.6,641.61 276.1,641.53 276.6,642.05 277.1,641.26 277.6,641.48 278.1,641.97 278.6,641.91 279.1,641.96 279.6,642.3 280.1,641.53 280.6,641.52 281.1,640.68 281.6,640.8 282.1,641.25 282.6,641.4 283.1,642.32 283.6,640.35 284.1,641.05 284.6,641.95 285.1,641.3 285.6,642.2 286.1,640.62 286.6,642.02 287.1,641.24 287.6,641.55 288.1,640.38 288.6,641.17 289.1,642.09 289.6,641.94 290.1,641.55 290.6,641.22 291.1,640.34 291.6,641.86 292.1,641.27 292.6,641.91 293.1,641.66 293.6,641.17 294.1,642.26 294.6,640.55 295.1,642.45 295.6,640.45 296.1,642.48 296.6,641.6 297.1,641.28 297.6,642.4 298.1,641.43 298.6,641.42 299.1,640.39 299.6,642.08 300.1,641.72 300.6,640.8 301.1,640.51 301.6,641.21 302.1,642.4 302.6,642.25 303.1,641.32 303.6,640.33 304.1,642.15 304.6,640.71 305.1,641.93 305.6,641.4 306.1,642.46 306.6,640.59 307.1,642.07 307.6,641.91 308.1,640.29 308.6,641.55 309.1,640.93 309.6,641.85 310.1,642.46 310.6,641.78 311.1,641.38 311.6,641.64 312.1,640.82 312.6,641.32 313.1,640.52 313.6,641.91 314.1,640.4 314.6,641.46 315.1,640.66 315.6,641.54 316.1,640.38 316.6,640.31 317.1,641.69 317.6,641.9 318.1,642.29 318.6,641.81 319.1,642.54 319.6,640.58 320.1,641.69 320.6,641.71 321.1,640.65 321.6,640.57 322.1,640.8 322.6,641.45 323.1,642.06 323.6,641.88 324.1,641.56 324.6,640.43 325.1,641.91 325.6,641.43 326.1,640.64 326.6,641.67 327.1,640.81 327.6,640.96 328.1,641.29 328.6,641.98 329.1,640.49 329.6,641.27 330.1,640.79 330.6,641.79 331.1,642.12 331.6,640.86 332.1,641.9 332.6,641.32 333.1,640.75 333.6,640.88 334.1,641.49 334.6,642.1 335.1,641.63 335.6,640.25 336.1,642.05 336.6,641.58 337.1,641.22 337.6,640.8 338.1,641.26 338.6,641.84 339.1,640.87 339.6,640.57 340.1,642.27 340.6,641.27 341.1,640.41 341.6,642.3 342.1,640.5 342.6,641.09 343.1,641.67 343.6,641.78 344.1,642.32 344.6,640.65 345.1,641.56 345.6,642.27 346.1,641.32 346.6,641.89 347.1,641.32 347.6,641.9 348.1,642.45 348.6,641.03 349.1,641.94 349.6,641.04 350.1,642.29 350.6,642.01 351.1,642.22 351.6,642.26 352.1,641.62 352.6,642.43 353.1,640.61 353.6,641.57 354.1,640.42 354.6,641.59 355.1,641.83 355.6,640.9 356.1,642.12 356.6,641.21 357.1,640.7 357.6,640.69 358.1,641.58 358.6,641.13 359.1,640.36 359.6,640.95 360.1,642.49 360.6,641.33 361.1,641.82 361.6,641.23 362.1,640.41 362.6,641.66 363.1,640.73 363.6,640.53 364.1,641.67 364.6,641.8 365.1,640.27 365.6,642.42 366.1,640.3 366.6,640.63 367.1,641 367.6,642.08 368.1,641.96 368.6,641.96 369.1,641.24 369.6,642.35 370.1,640.56 370.6,642.46 371.1,640.36 371.6,640.6 372.1,641.98 372.6,642.02 373.1,641.8 373.6,640.82 374.1,642.24 374.6,641.43 375.1,640.72 375.6,640.47 376.1,642.52 376.6,640.38 377.1,640.75 377.6,641.07 378.1,642.3 378.6,642.16 379.1,642.18 379.6,641.7 380.1,640.27 380.6,641.95 381.1,640.69 381.6,642.43 382.1,642.48 382.6,640.4 383.1,641.93 383.6,640.8 384.1,640.49 384.6,642.26 385.1,641.27 385.6,640.93 386.1,641.54 386.6,640.4 387.1,641.22 387.6,641.74 388.1,642.24 388.6,640.53 389.1,642.3 389.6,640.49 390.1,640.72 390.6,641.02 391.1,640.64 391.6,640.46 392.1,641.76 392.6,641.17 393.1,640.68 393.6,641.43 394.1,640.53 394.6,641.82 395.1,642.47 395.6,641.32 396.1,641.22 396.6,641.16 397.1,641.09 397.6,641.2 398.1,640.66 398.6,640.93 399.1,641.84 399.6,641.35 400.1,640.4 400.6,640.58 401.1,642.18 401.6,641.06 402.1,642.16 402.6,641.67 403.1,641.69 403.6,641.07 404.1,641.58 404.6,641.2 405.1,641.44 405.6,642.42 406.1,640.5 406.6,640.74 407.1,642.33 407.6,642.38 408.1,642.12 408.6,642.23 409.1,640.49 409.6,641.9 410.1,640.53 410.6,642.2 411.1,641.16 411.6,641.37 412.1,641.44 412.6,640.72 413.1,641.55 413.6,642.23 414.1,641.28 414.6,641.26 415.1,641.09 415.6,640.69 416.1,640.9 416.6,642.17 417.1,642.47 417.6,641.11 418.1,640.91 418.6,641.02 419.1,642.23 419.6,640.85 420.1,640.67 420.6,640.97 421.1,640.45 421.6,640.59 422.1,640.78 422.6,641.75 423.1,642.38 423.6,640.84 424.1,640.92 424.6,641.6 425.1,640.32 425.6,640.45 426.1,641.57 426.6,641.32 427.1,641.06 427.6,641.2 428.1,640.29 428.6,640.84 429.1,640.65 429.6,640.8 430.1,640.41 430.6,642.12 431.1,640.28 431.6,641.2 432.1,640.64 432.6,640.71 433.1,641.99 433.6,642.46 434.1,642.47 434.6,641.01 435.1,641.49 435.6,641.24 436.1,640.43 436.6,641.22 437.1,641.65 437.6,641.16 438.1,642.05 438.6,641.27 439.1,640.92 439.6,642.31 440.1,641.56 440.6,640.83 441.1,642.33 441.6,641.35 442.1,641.63 442.6,641.32 443.1,642.22 443.6,641.93 444.1,641.26 444.6,641.09 445.1,642.02 445.6,642.17 446.1,641.63 446.6,642.25 447.1,641.46 447.6,641.2 448.1,640.97 448.6,640.86 449.1,640.6 449.6,642.37 450.1,641.52 450.6,640.44 451.1,640.73 451.6,641.22 452.1,642.1 452.6,642.21 453.1,641.99 453.6,640.92 454.1,641.23 454.6,642.42 455.1,641.14 455.6,641.74 456.1,640.36 456.6,641.35 457.1,641.41 457.6,642.34 458.1,642.45 458.6,641.98 459.1,641.01 459.6,642.25 460.1,642.35 460.6,640.42 461.1,641.22 461.6,641.51 462.1,640.95 462.6,640.8 463.1,642.05 463.6,640.73 464.1,641.52 464.6,640.29 465.1,641.31 465.6,642.46 466.1,640.25 466.6,640.49 467.1,642.31 467.6,642.35 468.1,641.41 468.6,640.92 469.1,640.93 469.6,641.93 470.1,641.58 470.6,641.27 471.1,641.83 471.6,640.47 472.1,641.14 472.6,642.26 473.1,642.34 473.6,641.36 474.1,642.04 474.6,642.28 475.1,641.44 475.6,640.57 476.1,640.48 476.6,641.78 477.1,641.03 477.6,641.45 478.1,640.34 478.6,642.42 479.1,640.88 479.6,641.7 480.1,641.67 480.6,641.06 481.1,640.72 481.6,641.53 482.1,640.99 482.6,640.41 483.1,640.64 483.6,640.33 484.1,642.3 484.6,640.7 485.1,642.35 485.6,641.66 486.1,642.43 486.6,641.31 487.1,640.82 487.6,640.43 488.1,641.66 488.6,641.83 489.1,641.79 489.6,642.32 490.1,640.46 490.6,641.71 491.1,641.85 491.6,642.39 492.1,640.8 492.6,642.37 493.1,640.28 493.6,641.58 494.1,640.98 494.6,641.41 495.1,640.62 495.6,641.1 496.1,641.02 496.6,641.28 497.1,641.14 497.6,640.71 498.1,640.59 498.5,641.27 498.9,642.48 499.3,642.14 499.7,640.53 500.1,641.64 500.5,640.51 500.9,640.92 501.3,642.45 501.7,640.93 502.1,640.37 502.5,641.41 502.9,641.45 503.3,641.26 503.7,642.23 504.1,641.19 504.3,640.83 504.5,640.44 504.7,641.26 504.9,641.6 505.1,640.99 505.3,640.86 505.5,640.7 505.7,640.97 505.9,640.93 506.1,640.53 506.3,640.39 506.5,639.85 506.7,639.3 506.75,639.09 506.8,639.27 506.85,639.26 506.9,638.92 506.95,638.68 507,638.53 507.05,637.96 507.1,637.63 507.15,637.12 507.2,637 507.25,636.37 507.3,635.64 507.35,635.03 507.4,634.21 507.45,632.6 507.5,631.39 507.55,629.94 507.6,628.15 507.65,625.51 507.7,622.79 507.75,619.58 507.8,615.57 507.85,611.8 507.9,607.72 507.95,605.23 508,604.36 508.05,605.5 508.1,607.99 508.15,611.8 508.2,615.79 508.25,619.57 508.3,622.8 508.35,625.55 508.4,627.8 508.45,630.19 508.5,631.72 508.55,632.96 508.6,634.11 508.65,634.75 508.7,635.43 508.75,636.28 508.8,636.78 508.85,637.36 508.9,637.89 508.95,637.95 509,638.24 509.05,638.7 509.1,639.04 509.15,639.05 509.2,639.25 509.25,639.59 509.3,639.75 509.35,639.36 509.4,640.03 509.45,639.61 509.5,639.98 509.7,640.25 509.9,640.76 510.1,640.47 510.3,640.48 510.5,641.12 510.7,640.89 510.9,640.95 511.1,640.86 511.3,640.56 511.5,640.02 511.7,641.26 511.9,640.5 512.1,641.17 512.5,642.35 512.9,642.34 513.3,640.81 513.7,640.88 514.1,640.41 514.5,641.53 514.9,640.56 515.3,640.44 515.7,642.26 516.1,641.44 516.5,642.21 516.9,640.66 517.3,640.57 517.7,641.5 518.1,641.76 518.6,640.58 519.1,641.33 519.6,641.46 520.1,641.32 520.6,640.89 521.1,641.2 521.6,640.42 522.1,640.39 522.6,640.3 523.1,642.08 523.6,640.73 524.1,641.71 524.6,640.41 525.1,642.18 525.6,640.21 526.1,641.99 526.6,641.35 527.1,642.21 527.6,642.16 528.1,640.13 528.6,640.21 529.1,640.65 529.6,640.17 530.1,642.04 530.6,640.36 531.1,641.57 531.6,642.16 532,641.58 532.4,642.23 532.8,641.4 533.2,640.77 533.6,642.08 534,640.3 534.4,641.02 534.8,640.64 535.2,640.86 535.6,640.2 536,641.62 536.4,641.55 536.8,640.7 537.2,640 537.6,640.73 537.8,640.52 538,638.22 538.2,639.86 538.4,638.39 538.6,637.95 538.8,637.51 539,636.9 539.2,636.07 539.4,635.15 539.6,632.99 539.8,630.87 539.85,630 539.9,628.91 539.95,628.46 540,627.32 540.05,625.74 540.1,624.65 540.15,622.79 540.2,621.07 540.25,619.07 540.3,616.39 540.35,613.28 540.4,609.58 540.45,605.61 540.5,600.55 540.55,594.04 540.6,586.3 540.65,575.86 540.7,562.86 540.75,545.47 540.8,521.4 540.85,487.28 540.9,436.12 540.95,356.5 541,223.74 541.05,-3 541.35,-3 541.4,223.19 541.45,356.17 541.5,435.56 541.55,486 541.6,520.41 541.65,543.82 541.7,561.2 541.75,574.3 541.8,583.94 541.85,591.89 541.9,597.91 541.95,602.53 542,606.74 542.05,609.48 542.1,612.26 542.15,614.17 542.2,616.19 542.25,616.98 542.3,618.06 542.35,618.91 542.4,619.04 542.45,619.47 542.5,618.91 542.55,618.51 542.6,617.87 542.65,617.37 542.7,616.32 542.75,615.24 542.8,614.05 542.85,613.24 542.9,612.02 542.95,611.55 543,611.69 543.05,612.65 543.1,613.75 543.15,614.85 543.2,616.56 543.25,619.06 543.3,620.95 543.35,622.36 543.4,624.22 543.45,625.48 543.5,627.15 543.55,628.2 543.6,629.61 543.65,630.28 543.7,631.39 543.75,632.03 543.8,632.8 543.85,633.7 543.9,633.99 543.95,634.75 544,635.04 544.05,635.14 544.1,635.51 544.15,636.18 544.2,636.45 544.25,636.35 544.3,637 544.35,636.92 544.4,637.29 544.45,637.68 544.5,637.88 544.55,637.6 544.75,638.14 544.95,638.65 545.15,639.19 545.35,639.68 545.55,639.72 545.75,639.98 545.95,640.17 546.15,640.05 546.35,639.94 546.55,641.01 546.75,640.69 546.95,641.37 547.15,641.7 547.55,640.59 547.95,640.4 548.35,639.98 548.75,641.09 549.15,640.53 549.55,640.57 549.95,641.05 550.35,641.59 550.75,641.51 551.15,641.03 551.55,641.49 551.95,641.45 552.35,642.13 552.75,641.61 553.15,642.01 553.65,640.62 554.15,642.04 554.65,640.11 555.15,641.98 555.65,640.15 556.15,641.52 556.65,640.76 557.15,640.51 557.65,641.85 558.15,640.46 558.65,641.72 559.15,640.34 559.65,640.64 560.15,641.07 560.65,641.48 561.15,641.68 561.65,641 562.15,642.16 562.65,640.24 563.15,640.61 563.65,641.08 564.15,641.58 564.65,641.68 565.15,642.21 565.65,640.97 566.05,641.64 566.45,641.75 566.85,640.53 567.25,641 567.65,641.17 568.05,641.53 568.45,641.36 568.85,640.45 569.25,640.59 569.65,640.86 570.05,640.29 570.45,641.85 570.85,642.11 571.25,641.7 571.65,640.47 571.85,641.29 572.05,639.98 572.25,640.35 572.45,640.82 572.65,640.97 572.85,640.88 573.05,640.76 573.25,640.41 573.45,640.46 573.65,640.39 573.85,640.17 574.05,639.43 574.1,639.34 574.15,639.44 574.2,638.77 574.25,638.91 574.3,638.39 574.35,638.56 574.4,638.2 574.45,637.52 574.5,637.13 574.55,637.24 574.6,636.37 574.65,635.95 574.7,635.26 574.75,634.33 574.8,633.2 574.85,632.41 574.9,630.77 574.95,629.12 575,627.27 575.05,624.83 575.1,621.4 575.15,617.85 575.2,614.06 575.25,609.59 575.3,605.88 575.35,602.67 575.4,601.41 575.45,602.62 575.5,605.89 575.55,609.66 575.6,614.18 575.65,618.14 575.7,621.64 575.75,624.37 575.8,627.04 575.85,628.87 575.9,630.77 575.95,632.11 576,633.7 576.05,634.2 576.1,635.13 576.15,635.62 576.2,636.28 576.25,637.1 576.3,637.35 576.35,637.78 576.4,638.29 576.45,638.5 576.5,638.46 576.55,639 576.6,639.15 576.65,639.27 576.7,639.37 576.75,639.76 576.8,639.7 576.85,639.49 576.9,640.06 576.95,640.04 577.15,640.11 577.35,640.63 577.55,640.88 577.75,640.88 577.95,640.82 578.15,641.11 578.35,640.72 578.55,640 578.75,640.85 578.95,641.14 579.15,641.46 579.35,641.52 579.55,641.22 579.95,640.92 580.35,641.77 580.75,641.39 581.15,640.6 581.55,641.47 581.95,641.21 582.35,641.99 582.75,641.78 583.15,642.44 583.55,641.94 583.95,641.36 584.35,641.73 584.75,640.87 585.15,641.47 585.55,642.48 586.05,640.48 586.55,641.19 587.05,641.2 587.55,641.86 588.05,640.65 588.55,641.79 589.05,640.48 589.55,642.44 590.05,640.41 590.55,641.71 591.05,641.95 591.55,641.5 592.05,640.85 592.55,641.06 593.05,642.28 593.55,641.28 594.05,641.52 594.55,642.43 595.05,641.35 595.55,642.1 596.05,641.61 596.55,642.14 597.05,641.67 597.55,640.54 598.05,640.76 598.55,640.87 599.05,640.74 599.55,641.6 600.05,641.2 600.55,641.08 601.05,640.28 601.55,642.51 602.05,641.35 602.55,640.72 603.05,641.76 603.55,640.45 604.05,640.57 604.55,642.41 605.05,641.77 605.55,641.06 606.05,640.55 606.55,641.91 607.05,640.8 607.55,640.99 608.05,640.89 608.55,641.69 609.05,640.8 609.55,640.37 610.05,642.19 610.55,641.46 611.05,640.53 611.55,640.39 612.05,642.34 612.55,641.41 613.05,641.51 613.55,642.31 614.05,640.3 614.55,640.49 615.05,640.72 615.55,641.85 616.05,640.5 616.55,641.54 617.05,642.07 617.55,641.17 618.05,641.78 618.55,640.34 619.05,641.35 619.55,641.1 620.05,641.8 620.55,641.15 621.05,641.76 621.55,642.31 622.05,642.39 622.55,642.11 623.05,641.87 623.55,642.46 624.05,641.23 624.55,640.29 625.05,642.1 625.55,641.07 626.05,641.02 626.55,642.43 627.05,641.17 627.55,640.55 628.05,642.33 628.55,640.25 629.05,640.36 629.55,641.86 630.05,640.64 630.55,641.9 631.05,640.25 631.55,640.92 632.05,641.16 632.55,641.69 633.05,641.96 633.55,641.8 634.05,640.69 634.55,642.21 635.05,640.37 635.55,641.26 636.05,640.36 636.55,642.02 637.05,641.33 637.55,641.26 638.05,642.4 638.55,640.8 639.05,641.75 639.55,641.85 640.05,640.41 640.55,642.02 641.05,641.03 641.55,641.93 642.05,641.98 642.55,641.02 643.05,641.15 643.55,641.19 644.05,640.48 644.55,641.55 645.05,641.92 645.55,642.45 646.05,641.27 646.55,641.51 647.05,641.72 647.55,642 648.05,641.77 648.55,642.45 649.05,642.18 649.55,642.47 650.05,641.26 650.55,641.51 651.05,640.63 651.55,641.43 652.05,641.43 652.55,641.07 653.05,642.39 653.55,642.27 654.05,642.13 654.55,640.93 655.05,641.58 655.55,642.22 656.05,641.15 656.55,641.59 657.05,640.69 657.55,642.41 658.05,641.56 658.55,641.28 659.05,642.22 659.55,640.87 660.05,641.47 660.55,641.19 661.05,642.31 661.55,641.4 662.05,642.42 662.55,642.14 663.05,640.5 663.55,641.6 664.05,641.38 664.55,640.6" fill="none" stroke="#121290" stroke-width="1.45" stroke-linejoin="round"/><path d="M300.5,641.4V645.6M313.6,641.4V633.7M312.5,641.4V647.6M333.3,641.4V647.6M341.4,641.4V638.3M350,641.4V649.4M358.6,641.4V645.4M370.6,641.4V638.8M382,641.4V644.3" fill="none" stroke="#121290" stroke-width="1.4"/><path d="M100.5,772.89 101,774.26 101.5,774.15 102,774.81 102.5,773.27 103,773.24 103.5,774.34 104,774.16 104.5,773.35 105,774.22 105.5,773.56 106,774.44 106.5,772.92 107,773.16 107.5,774.72 108,773.47 108.5,773.25 109,774.5 109.5,774.1 110,772.99 110.5,773.92 111,774.18 111.5,773.03 112,774.15 112.5,772.93 113,773.42 113.5,772.84 114,773.12 114.5,774.9 115,773.58 115.5,774.93 116,773.66 116.5,774.04 117,774.65 117.5,774.23 118,772.9 118.5,774 119,774.1 119.5,773.06 120,772.87 120.5,774.66 121,773.83 121.5,773.09 122,773.69 122.5,773.15 123,774.48 123.5,773.8 124,772.88 124.5,774.53 125,772.85 125.5,773.29 126,772.71 126.5,774.35 127,772.91 127.5,773.86 128,772.86 128.5,773.75 129,774.22 129.5,773.88 130,773.69 130.5,773.76 131,773.65 131.5,774.02 132,772.86 132.5,773.74 133,773.19 133.5,774.64 134,774.81 134.5,772.8 135,772.97 135.5,774.26 136,773.96 136.5,772.69 137,774.27 137.5,774.82 138,773.62 138.5,773.44 139,773.95 139.5,774.8 140,773.25 140.5,773.34 141,773.08 141.5,774.09 142,773.72 142.5,773.23 143,773.54 143.5,772.72 144,773.36 144.5,774.9 145,773.99 145.5,773.29 146,774.79 146.5,773.47 147,773.22 147.5,772.72 148,772.98 148.5,773.1 149,773.17 149.5,774.65 150,773.25 150.5,773.21 151,774.03 151.5,774.75 152,773.31 152.5,774.39 153,773.48 153.5,773.93 154,774.01 154.5,774.8 155,774.38 155.5,773.8 156,774.57 156.5,773.47 157,773.51 157.5,774.84 158,773.88 158.5,774.41 159,773.35 159.5,774.73 160,774.03 160.5,773.19 161,774.77 161.5,773.7 162,773.4 162.5,773.22 163,772.85 163.5,773.07 164,774.2 164.5,772.93 165,773.2 165.5,773.63 166,773.85 166.5,773.46 167,774.39 167.5,773.17 168,773.42 168.5,773.54 168.9,772.85 169.3,773.06 169.7,772.87 170.1,774.19 170.5,772.85 170.9,774.03 171.3,772.99 171.7,773.94 172.1,773.94 172.5,773.21 172.9,774.51 173.3,773.83 173.7,773.54 174.1,772.28 174.5,773.01 174.7,772.62 174.9,773.01 175.1,773.99 175.3,773.1 175.5,772.49 175.7,772.69 175.9,772.64 176.1,772.14 176.3,771.54 176.5,771.55 176.7,770.67 176.9,770.14 176.95,769.81 177,769.48 177.05,769.21 177.1,768.32 177.15,768.35 177.2,767.6 177.25,766.99 177.3,766.56 177.35,766.04 177.4,764.95 177.45,764.39 177.5,763.64 177.55,762.39 177.6,761.16 177.65,759.6 177.7,758.36 177.75,756.04 177.8,754.13 177.85,751.63 177.9,748.43 177.95,745.89 178,741.99 178.05,738.8 178.1,735.09 178.15,731.65 178.2,728.78 178.25,726.61 178.3,725.97 178.35,726.58 178.4,728.83 178.45,731.12 178.5,734.62 178.55,738.78 178.6,742.33 178.65,745.71 178.7,749.02 178.75,751.56 178.8,754.23 178.85,756.16 178.9,758.32 178.95,759.46 179,761.11 179.05,762.43 179.1,763.65 179.15,764.37 179.2,765.36 179.25,766.27 179.3,766.58 179.35,767.03 179.4,767.44 179.45,768.39 179.5,768.57 179.55,768.88 179.6,769.29 179.65,769.35 179.7,769.69 179.75,769.94 179.8,770.18 180,771.27 180.2,771.42 180.4,771.72 180.6,772.48 180.8,772.52 181,772.39 181.2,772.92 181.4,773.37 181.6,773.38 181.8,773.75 182,773.02 182.2,772.62 182.4,773.87 182.8,773.67 183.2,773.92 183.6,772.77 184,773.25 184.4,774.01 184.8,773.34 185.2,773.86 185.6,773.58 186,774.24 186.4,773.32 186.8,773.68 187.2,774.45 187.6,773.27 188,772.96 188.4,774.03 188.9,772.88 189.4,774.55 189.9,773.22 190.4,774.67 190.9,773.82 191.4,772.96 191.9,773.8 192.4,774.18 192.9,773.73 193.4,774.07 193.9,773.46 194.4,774.82 194.9,773.02 195.4,774.46 195.9,772.68 196.4,773.79 196.9,772.78 197.4,772.93 197.9,773.98 198.4,774.71 198.9,773.34 199.4,773.56 199.9,773.73 200.4,774.02 200.9,773.44 201.4,773.44 201.9,774.6 202.4,773.91 202.9,773.45 203.4,774.52 203.9,774.93 204.4,773.63 204.9,772.67 205.4,773.34 205.9,774.7 206.4,773.03 206.9,773.1 207.4,774.46 207.9,772.9 208.4,774.59 208.9,773.16 209.4,773.53 209.9,774.01 210.4,772.9 210.9,774.42 211.4,773.65 211.9,774.41 212.4,774.4 212.9,772.82 213.4,774.53 213.9,774.53 214.4,773.2 214.9,774 215.4,773.12 215.9,773.88 216.4,774.37 216.9,773.51 217.4,773.87 217.9,772.95 218.4,774.63 218.9,774.09 219.4,774.55 219.9,772.83 220.4,774.36 220.9,772.85 221.4,773.93 221.9,773.18 222.4,774.72 222.9,772.89 223.4,773.73 223.9,773.73 224.4,773.53 224.9,772.79 225.4,774.18 225.9,774.88 226.4,773.48 226.9,774.71 227.4,773.43 227.9,773.27 228.4,773.69 228.9,774.88 229.4,774.44 229.9,774.1 230.4,772.74 230.9,773.68 231.4,772.68 231.9,772.79 232.4,773.51 232.9,773.21 233.4,772.89 233.9,773.82 234.4,774.45 234.9,774.78 235.4,774.75 235.9,773.63 236.4,773.06 236.9,774.86 237.4,773.62 237.9,773.44 238.4,774.54 238.9,773.93 239.4,774.84 239.9,774.26 240.4,774.82 240.9,773 241.4,774.82 241.9,773.89 242.4,774.25 242.9,773.34 243.4,773.21 243.9,773.33 244.4,773.04 244.9,774.86 245.4,772.92 245.9,773.21 246.4,774.1 246.9,773.12 247.4,773.14 247.9,773.23 248.4,773.19 248.9,772.67 249.4,774.35 249.9,774.16 250.4,773.36 250.9,774.72 251.4,773.93 251.9,773.15 252.4,774.87 252.9,773.18 253.4,774.51 253.9,774.53 254.4,772.65 254.9,774.6 255.4,773.62 255.9,773.8 256.4,774.82 256.9,773.69 257.4,773.2 257.9,772.76 258.4,774.68 258.9,773.69 259.4,774.28 259.9,774.12 260.4,774.9 260.9,774.8 261.4,774.8 261.9,773.81 262.4,774.74 262.9,773.35 263.4,772.93 263.9,774.12 264.4,772.71 264.9,774.88 265.4,773.4 265.9,773.62 266.4,773.32 266.9,773.39 267.4,773.88 267.9,774.49 268.4,772.68 268.9,773.44 269.4,773.22 269.9,774.85 270.4,773.66 270.9,773.67 271.4,774.8 271.9,773.54 272.4,773.53 272.9,773.57 273.4,773.19 273.9,774.27 274.4,773.31 274.9,773.82 275.4,773.96 275.9,774.41 276.4,774.35 276.9,773.76 277.4,774.83 277.9,774.82 278.4,774.81 278.9,774.29 279.4,773.69 279.9,773.48 280.4,774.63 280.9,773.74 281.4,774.37 281.9,773.54 282.4,773.49 282.9,772.69 283.4,774.33 283.9,773.32 284.4,773.78 284.9,774.32 285.4,774.56 285.9,774.82 286.4,774.17 286.9,773.18 287.4,774.79 287.9,772.77 288.4,773.6 288.9,774.78 289.4,774.59 289.9,774.02 290.4,774.65 290.9,773.06 291.4,772.74 291.9,773.33 292.4,774.79 292.9,772.74 293.4,773.4 293.9,773.82 294.4,773.12 294.9,774.65 295.4,772.89 295.9,772.85 296.4,774.94 296.9,772.68 297.4,773.16 297.9,773.59 298.4,774.67 298.9,773.42 299.4,773.96 299.9,774.5 300.4,774.07 300.9,774.56 301.4,772.69 301.9,773.89 302.4,772.7 302.9,774.61 303.4,772.71 303.9,772.87 304.4,773.64 304.9,774.08 305.4,772.68 305.9,774.12 306.4,772.89 306.9,773.39 307.4,772.75 307.9,774.32 308.4,774.56 308.9,774.42 309.4,773.39 309.9,773.22 310.4,774.86 310.9,774.53 311.4,774.88 311.9,773.6 312.4,774.67 312.9,774.21 313.4,774.46 313.9,773.83 314.4,774.45 314.9,773.8 315.4,773.28 315.9,773.75 316.4,772.74 316.9,774.2 317.4,773.42 317.9,773.06 318.4,774.47 318.9,773.86 319.4,773.38 319.9,774.77 320.4,774.81 320.9,773.63 321.4,773.91 321.9,772.65 322.4,773.47 322.9,774.92 323.4,773.82 323.9,774.93 324.4,772.71 324.9,772.69 325.4,772.79 325.9,772.82 326.4,774.39 326.9,774.92 327.4,774.4 327.9,774.04 328.4,773.53 328.9,773.53 329.4,772.95 329.9,773.56 330.4,772.93 330.9,774.51 331.4,773.89 331.9,773.52 332.4,774.61 332.9,773.34 333.4,774.65 333.9,774.3 334.4,774.09 334.9,774.02 335.4,774.1 335.9,774.72 336.4,774.94 336.9,773.93 337.4,774.86 337.9,773.21 338.4,774.78 338.9,774.68 339.4,774.11 339.9,772.9 340.4,774.69 340.9,773.52 341.4,773.41 341.9,774.84 342.4,772.85 342.9,774.13 343.4,773.17 343.9,774.65 344.4,773.15 344.9,772.89 345.4,773.77 345.9,773.7 346.4,774.38 346.9,773.29 347.4,773.32 347.9,773.32 348.4,773.91 348.9,772.95 349.4,773.94 349.9,774.54 350.4,774.23 350.9,773.24 351.4,773.75 351.9,772.87 352.4,773.73 352.9,774.4 353.4,772.65 353.9,774.14 354.4,774.77 354.9,773.29 355.4,773.38 355.9,774.22 356.4,773.01 356.9,773.27 357.4,774.07 357.9,773.84 358.4,773.03 358.9,773.1 359.4,773.78 359.9,774.64 360.4,773.11 360.9,774.22 361.4,773.87 361.9,773.29 362.4,773.6 362.9,774.54 363.4,772.88 363.9,773.91 364.4,773.75 364.9,772.9 365.4,773.6 365.9,773.04 366.4,773.58 366.9,772.72 367.4,773.95 367.9,774.5 368.4,774.66 368.9,774.79 369.4,773.23 369.9,774.49 370.4,773.47 370.9,774.29 371.4,773.73 371.9,774.36 372.4,773.57 372.9,774.85 373.4,773.72 373.9,774.49 374.4,773.06 374.9,774.32 375.4,773.13 375.9,773.59 376.4,773.52 376.9,774.18 377.4,773.98 377.9,773.28 378.4,774.79 378.9,772.74 379.4,773.75 379.9,772.95 380.4,772.9 380.9,773.15 381.4,774.82 381.9,772.7 382.4,774.3 382.9,773.98 383.4,774.57 383.9,774.6 384.4,772.93 384.9,774.77 385.4,772.97 385.9,772.92 386.4,773.19 386.9,774.25 387.4,773.97 387.9,774.23 388.4,773.14 388.9,773.74 389.4,773.4 389.9,774.86 390.4,773.96 390.9,774.26 391.4,773.68 391.9,772.91 392.4,772.87 392.9,773.17 393.4,774.34 393.9,773.11 394.4,773.75 394.9,773.43 395.4,772.95 395.9,773.5 396.4,773.78 396.9,774.76 397.4,774.44 397.9,773.65 398.4,773.32 398.9,773.2 399.4,773.46 399.9,773.87 400.4,774.88 400.9,772.82 401.4,773.09 401.9,773.56 402.4,773.95 402.9,772.8 403.4,772.7 403.9,773.92 404.4,772.69 404.9,774.54 405.4,774.19 405.9,773.72 406.4,774.94 406.9,773.76 407.4,774.82 407.9,773.15 408.4,772.83 408.9,773.61 409.4,773.87 409.9,774.18 410.4,772.94 410.9,774.28 411.4,773.32 411.9,774.82 412.4,774.48 412.9,774.43 413.4,772.75 413.9,772.78 414.4,772.72 414.9,773.66 415.4,772.73 415.9,772.98 416.4,772.78 416.9,774.93 417.4,773.72 417.9,773.25 418.4,772.99 418.9,773.29 419.4,772.89 419.9,774.48 420.4,774.77 420.9,774.52 421.4,772.82 421.9,774.04 422.4,774.61 422.9,773.55 423.4,774.44 423.9,772.68 424.4,773.84 424.9,774.36 425.4,773.63 425.9,772.88 426.4,774.88 426.9,774.51 427.4,773.3 427.9,774.32 428.4,773.03 428.9,774.06 429.4,774.28 429.9,774.02 430.4,773.65 430.9,774.54 431.4,773.59 431.9,772.81 432.4,773 432.9,772.99 433.4,774.44 433.9,772.79 434.4,774.87 434.9,773.97 435.4,772.81 435.9,774.82 436.4,774.92 436.9,773.18 437.4,773.94 437.9,773.18 438.4,772.96 438.9,772.82 439.4,774.68 439.9,773.16 440.4,773.11 440.9,773.05 441.4,773.3 441.9,774.82 442.4,773.13 442.9,773.07 443.4,772.78 443.9,774.27 444.4,772.89 444.9,774.53 445.4,774.81 445.9,773.28 446.4,773.72 446.9,774.49 447.4,773.77 447.9,773.37 448.4,774.75 448.9,774.94 449.4,773.19 449.9,774.58 450.4,772.73 450.9,774.54 451.4,773.44 451.9,774.91 452.4,772.7 452.9,773.12 453.4,773.57 453.9,773.8 454.4,774.42 454.9,772.95 455.4,772.78 455.9,773.2 456.4,772.87 456.9,774.82 457.4,773.83 457.9,773.11 458.4,773.38 458.9,773.25 459.4,773.68 459.9,773.38 460.4,774.08 460.9,773.14 461.4,774.22 461.9,774.75 462.4,774.38 462.9,772.83 463.4,773.75 463.9,774.53 464.4,772.8 464.9,774.8 465.4,772.89 465.9,772.89 466.4,772.66 466.9,774.62 467.4,772.7 467.9,773.72 468.4,774 468.9,773.75 469.4,774.93 469.9,774.02 470.4,772.65 470.9,773.55 471.4,773 471.9,774.69 472.4,773.16 472.9,774.16 473.4,773.66 473.9,773.64 474.4,773.87 474.9,773.22 475.4,774.12 475.9,774.02 476.4,774.5 476.9,774.51 477.4,772.86 477.9,774.52 478.4,773.38 478.9,774.87 479.4,773.95 479.9,773.09 480.4,773.83 480.9,773.89 481.4,773.81 481.9,773.52 482.4,773.98 482.9,773.88 483.4,774.46 483.9,773.42 484.4,773.68 484.9,772.65 485.4,774.35 485.9,772.76 486.4,774.64 486.9,773.82 487.4,773.94 487.9,773.52 488.4,773.9 488.9,772.85 489.4,772.99 489.9,773.85 490.4,773.31 490.9,773.78 491.4,773.76 491.9,774.87 492.4,774.11 492.9,772.66 493.4,774.14 493.9,773.35 494.4,773.03 494.9,773.45 495.4,774.66 495.9,774.42 496.4,773.65 496.9,774.58 497.4,773.78 497.8,772.93 498.2,774.21 498.6,774.56 499,774.14 499.4,773.24 499.8,773.66 500.2,772.85 500.6,773.1 501,772.68 501.4,774.73 501.8,774.15 502.2,773.58 502.6,774.01 503,773.99 503.2,773.45 503.4,772.92 503.6,773.44 503.8,773.51 504,773.29 504.2,773.14 504.4,773.28 504.6,773.23 504.8,772.86 505,772.64 505.2,772.81 505.4,772.66 505.6,772.09 505.65,772.01 505.7,771.81 505.75,771.45 505.8,771.38 505.85,771.1 505.9,771.19 505.95,770.41 506,770.64 506.05,769.79 506.1,769.51 506.15,769.22 506.2,768.92 506.25,768.28 506.3,767.49 506.35,766.57 506.4,765.62 506.45,764.14 506.5,762.51 506.55,761.06 506.6,758.66 506.65,756.17 506.7,753.18 506.75,749.57 506.8,744.82 506.85,740.82 506.9,736.26 506.95,733.4 507,732.45 507.05,733.5 507.1,736.35 507.15,740.81 507.2,744.84 507.25,749.47 507.3,753.31 507.35,756.4 507.4,758.6 507.45,760.93 507.5,762.54 507.55,764.16 507.6,765.41 507.65,766.28 507.7,767.31 507.75,768.25 507.8,768.75 507.85,769.05 507.9,769.39 507.95,769.77 508,770.53 508.05,770.49 508.1,770.93 508.15,770.94 508.2,771.45 508.25,771.26 508.3,771.65 508.35,771.78 508.4,771.95 508.45,771.89 508.5,772.28 508.7,772.79 508.9,772.58 509.1,772.68 509.3,772.94 509.5,773.08 509.7,773.48 509.9,773.05 510.1,772.33 510.3,773.5 510.5,773.39 510.7,772.83 510.9,773.95 511.1,773.3 511.5,774.65 511.9,772.96 512.3,773.68 512.7,772.79 513.1,772.74 513.5,774.71 513.9,774.56 514.3,774.25 514.7,773.69 515.1,774.09 515.5,773.07 515.9,772.97 516.3,773.05 516.7,773.17 517.1,773.47 517.6,773.71 518.1,773.18 518.6,773.36 519.1,774.39 519.6,774.39 520.1,773.13 520.6,773.85 521.1,772.79 521.6,773.99 522.1,773.97 522.6,772.95 523.1,774.47 523.6,773.93 524.1,774.74 524.6,773.13 525.1,772.86 525.6,774.28 526.1,774.21 526.6,773.01 527.1,773.48 527.6,772.86 528.1,773.5 528.6,774.68 529.1,773.01 529.6,773.21 530.1,774.35 530.5,774.6 530.9,773.49 531.3,773.55 531.7,773.41 532.1,773.82 532.5,774.26 532.9,774.22 533.3,773.35 533.7,773.04 534.1,773.86 534.5,773.35 534.9,773.96 535.3,771.76 535.7,773.03 536.1,772.93 536.3,771.75 536.5,770.79 536.7,771.34 536.9,772.57 537.1,771.36 537.3,770.77 537.5,770.68 537.7,769.72 537.9,769.5 538.1,768.61 538.3,767.86 538.5,766.11 538.55,765.73 538.6,765.3 538.65,764.87 538.7,764.37 538.75,763.64 538.8,763.18 538.85,762.27 538.9,761.86 538.95,761.17 539,759.95 539.05,759.02 539.1,758.21 539.15,756.88 539.2,755.39 539.25,753.75 539.3,752.21 539.35,749.92 539.4,747.75 539.45,745.35 539.5,742.14 539.55,738.91 539.6,735.38 539.65,731.31 539.7,726.77 539.75,721.67 539.8,716.34 539.85,711.17 539.9,705.59 539.95,699.9 540,694.15 540.05,688.2 540.1,681.91 540.15,674.11 540.2,663.48 540.25,648.64 540.3,627.18 540.35,595.89 540.4,547.55 540.45,469.85 540.5,339.01 540.55,101.61 540.6,-3 540.8,-3 540.85,108.37 540.9,348.07 540.95,481.66 541,562.22 541.05,613.14 541.1,648.04 541.15,672.51 541.2,689.9 541.25,703.56 541.3,713.39 541.35,721.41 541.4,728.22 541.45,733.21 541.5,737.43 541.55,741.12 541.6,744.24 541.65,746.49 541.7,748.63 541.75,750.5 541.8,751.58 541.85,753.06 541.9,753.8 541.95,754.74 542,755.36 542.05,755.9 542.1,756.7 542.15,756.36 542.2,756.7 542.25,756.36 542.3,756.07 542.35,756.21 542.4,755.37 542.45,754.83 542.5,753.76 542.55,752.63 542.6,751.51 542.65,749.74 542.7,748.54 542.75,747.62 542.8,746.86 542.85,745.82 542.9,745.89 542.95,746.55 543,747.48 543.05,748.97 543.1,750.21 543.15,752.11 543.2,754.17 543.25,755.93 543.3,757.49 543.35,759.04 543.4,760.36 543.45,761.06 543.5,762.29 543.55,763.08 543.6,763.93 543.65,765.02 543.7,765.46 543.75,766.33 543.8,766.33 543.85,767.05 543.9,767.78 543.95,767.79 544,768.31 544.05,768.73 544.1,768.97 544.15,768.94 544.2,769.25 544.25,769.66 544.3,769.71 544.35,769.83 544.4,770.32 544.45,770.06 544.65,770.86 544.85,771.06 545.05,771.55 545.25,771.89 545.45,772.19 545.65,772.32 545.85,772.29 546.05,772.61 546.25,772.97 546.45,773.22 546.65,773.7 546.85,771.69 547.05,771.78 547.45,774.05 547.85,773.41 548.25,772.24 548.65,772.78 549.05,772.46 549.45,772.91 549.85,772.55 550.25,773.93 550.65,772.64 551.05,773.37 551.45,772.48 551.85,773.28 552.25,772.98 552.65,773.64 553.05,773.03 553.55,772.93 554.05,773.26 554.55,774.64 555.05,774.75 555.55,772.85 556.05,774.2 556.55,772.63 557.05,773.23 557.55,774.31 558.05,774.2 558.55,774.13 559.05,773.67 559.55,773.56 560.05,772.66 560.55,774.06 561.05,774.02 561.55,773.41 562.05,772.89 562.55,773.15 563.05,774.4 563.55,772.76 564.05,773.93 564.45,774.32 564.85,774.27 565.25,773.4 565.65,774.12 566.05,773.03 566.45,773.16 566.85,774 567.25,772.78 567.65,773.69 568.05,774.08 568.45,772.58 568.85,772.58 569.25,774.32 569.65,774.25 570.05,774.61 570.25,772.62 570.45,774.27 570.65,773.6 570.85,773.53 571.05,773.17 571.25,773.22 571.45,773.04 571.65,772.84 571.85,773.13 572.05,772.61 572.25,772.39 572.45,772.51 572.65,772.1 572.7,771.53 572.75,771.58 572.8,771.23 572.85,771.16 572.9,771.01 572.95,770.66 573,770.41 573.05,770.16 573.1,769.95 573.15,769.21 573.2,768.7 573.25,768.3 573.3,767.52 573.35,766.67 573.4,765.66 573.45,764.9 573.5,763.5 573.55,761.38 573.6,759.64 573.65,757 573.7,753.76 573.75,750.2 573.8,746.72 573.85,741.93 573.9,738.23 573.95,735.46 574,734.42 574.05,735.46 574.1,737.97 574.15,742.1 574.2,746.19 574.25,750.59 574.3,754.2 574.35,756.88 574.4,759.6 574.45,761.47 574.5,763.24 574.55,764.53 574.6,765.77 574.65,766.62 574.7,767.35 574.75,768.26 574.8,769.1 574.85,769.47 574.9,769.92 574.95,770.17 575,770.31 575.05,770.64 575.1,770.8 575.15,771.32 575.2,771.24 575.25,771.72 575.3,771.49 575.35,772.05 575.4,771.89 575.45,771.95 575.5,772.23 575.55,772.18 575.75,772.82 575.95,772.95 576.15,772.99 576.35,773.16 576.55,773.39 576.75,773.4 576.95,773.33 577.15,773.55 577.35,773.32 577.55,773.8 577.75,774.23 577.95,774.17 578.15,774.61 578.55,772.51 578.95,772.64 579.35,772.77 579.75,774.7 580.15,773.39 580.55,773.68 580.95,773.59 581.35,773.64 581.75,774.11 582.15,774.01 582.55,773.06 582.95,773.71 583.35,774.54 583.75,773.64 584.15,773.66 584.65,773.27 585.15,773.54 585.65,773.5 586.15,773.04 586.65,774 587.15,772.77 587.65,773.18 588.15,772.65 588.65,774.48 589.15,773.61 589.65,773.5 590.15,774.61 590.65,774.35 591.15,773.19 591.65,774.08 592.15,773.26 592.65,773.46 593.15,772.86 593.65,773.8 594.15,774.1 594.65,773.22 595.15,773.46 595.65,773.2 596.15,774.2 596.65,774.76 597.15,774.6 597.65,774.39 598.15,774.47 598.65,773.56 599.15,773.35 599.65,774.68 600.15,774.88 600.65,774.29 601.15,773.22 601.65,772.78 602.15,774.11 602.65,772.82 603.15,774.6 603.65,773.05 604.15,773.28 604.65,772.89 605.15,774.43 605.65,773.05 606.15,773.03 606.65,773.46 607.15,772.92 607.65,772.8 608.15,774.75 608.65,773.59 609.15,773.21 609.65,773.04 610.15,774.34 610.65,772.71 611.15,773.82 611.65,773.64 612.15,773.88 612.65,773.45 613.15,774.75 613.65,772.77 614.15,774.38 614.65,772.99 615.15,772.77 615.65,772.87 616.15,773.27 616.65,773.75 617.15,773.19 617.65,773.04 618.15,772.95 618.65,774.5 619.15,774.71 619.65,773.3 620.15,774.39 620.65,774.18 621.15,774.6 621.65,774.75 622.15,773.97 622.65,773.19 623.15,773.57 623.65,773.83 624.15,772.8 624.65,773.32 625.15,772.88 625.65,774.3 626.15,773.19 626.65,773 627.15,773.29 627.65,774.06 628.15,774.25 628.65,773.49 629.15,773.52 629.65,772.72 630.15,773.73 630.65,774.1 631.15,773.91 631.65,774.1 632.15,773.91 632.65,774.54 633.15,774.63 633.65,773.79 634.15,774.61 634.65,773.02 635.15,773.06 635.65,774.71 636.15,773.4 636.65,773.51 637.15,772.92 637.65,773.97 638.15,774.3 638.65,772.82 639.15,773.31 639.65,772.76 640.15,773.62 640.65,773.18 641.15,774 641.65,774.21 642.15,773.62 642.65,773.78 643.15,774.88 643.65,774.2 644.15,772.88 644.65,774.43 645.15,773.7 645.65,774.68 646.15,772.98 646.65,773.74 647.15,774.89 647.65,774.47 648.15,774.57 648.65,774.75 649.15,774.63 649.65,774.18 650.15,772.78 650.65,774.34 651.15,773.78 651.65,772.83 652.15,772.96 652.65,774.79 653.15,772.66 653.65,773.16 654.15,774.5 654.65,774.87 655.15,773.19 655.65,774.88 656.15,774.05 656.65,773.68 657.15,773.78 657.65,773.7 658.15,773.94 658.65,772.93 659.15,774.54 659.65,773.57 660.15,773.48 660.65,773.08 661.15,773.09 661.65,774 662.15,774.76 662.65,773.05 663.15,774.37 663.65,774.64 664.15,773.91 664.65,774.67" fill="none" stroke="#0c0c42" stroke-width="1.7" stroke-linejoin="round"/><path d="M265.9,773.8V784.5M300.8,773.8V792.4M312.6,773.8V757.5M324.2,773.8V740.6M335.9,773.8V767.9M341.7,773.8V767.6M341.9,773.8V780.5M347.5,773.8V767M350,773.8V766.6M358.9,773.8V759.1M370.7,773.8V765.9M382,773.8V747.4M405.9,773.8V768.3" fill="none" stroke="#0c0c42" stroke-width="1.4"/><line x1="100.5" y1="843.2" x2="665" y2="843.2" stroke="#000" stroke-width="3"/><line x1="128.4" y1="843" x2="128.4" y2="857.5" stroke="#000" stroke-width="3"/><line x1="226.4" y1="843" x2="226.4" y2="851.8" stroke="#000" stroke-width="3"/><line x1="324.3" y1="843" x2="324.3" y2="851.8" stroke="#000" stroke-width="3"/><line x1="422.3" y1="843" x2="422.3" y2="851.8" stroke="#000" stroke-width="3"/><line x1="520.3" y1="843" x2="520.3" y2="857.5" stroke="#000" stroke-width="3"/><line x1="618.6" y1="843" x2="618.6" y2="851.8" stroke="#000" stroke-width="3"/><text font-family='"Liberation Sans", sans-serif' font-size="42" font-weight="bold" transform="translate(1.3,39.5) scale(0.89,1)">a</text><text font-family='"Liberation Sans", sans-serif' font-size="19.5" transform="translate(55.2,38.5) scale(0.92,1)">31</text><text x="78" y="50.8" font-family='"Liberation Sans", sans-serif' font-size="29" font-weight="normal" text-anchor="start" fill="#000" >P NMR</text><text x="86.5" y="375.4" font-family='"Liberation Sans", sans-serif' font-size="29" font-weight="normal" text-anchor="end" fill="#000" >20 min</text><text x="86.5" y="506" font-family='"Liberation Sans", sans-serif' font-size="29" font-weight="normal" text-anchor="end" fill="#000" >15 min</text><text x="82" y="637" font-family='"Liberation Sans", sans-serif' font-size="29" font-weight="normal" text-anchor="end" fill="#000" >8 min</text><text x="82" y="768" font-family='"Liberation Sans", sans-serif' font-size="29" font-weight="normal" text-anchor="end" fill="#000" >5 min</text><text x="121" y="815.1" font-family='"Liberation Sans", sans-serif' font-size="29" font-weight="normal" text-anchor="start" fill="#000" >TnBPO</text><text x="482" y="815.8" font-family='"Liberation Sans", sans-serif' font-size="29" font-weight="normal" text-anchor="start" fill="#000" >TnBPSe</text><text x="128.4" y="890.7" font-family='"Liberation Sans", sans-serif' font-size="29" font-weight="normal" text-anchor="middle" fill="#000" >60</text><text x="520.3" y="890.2" font-family='"Liberation Sans", sans-serif' font-size="29" font-weight="normal" text-anchor="middle" fill="#000" >40</text><text x="586" y="890.2" font-family='"Liberation Sans", sans-serif' font-size="29" font-weight="normal" text-anchor="start" fill="#000" >(ppm)</text><line x1="850.8" y1="39.5" x2="1469.4" y2="39.5" stroke="#000" stroke-width="2.7"/><line x1="1469.4" y1="38.2" x2="1469.4" y2="815.1" stroke="#000" stroke-width="2.7"/><line x1="850.8" y1="39.5" x2="850.8" y2="815.1" stroke="#8e8e8e" stroke-width="2.5"/><line x1="849.5999999999999" y1="815.1" x2="1469.4" y2="815.1" stroke="#8e8e8e" stroke-width="2.5"/><text x="834.5" y="50.1" font-family='"Liberation Sans", sans-serif' font-size="29" font-weight="normal" text-anchor="end" fill="#000" >100%</text><text x="834.5" y="205.22" font-family='"Liberation Sans", sans-serif' font-size="29" font-weight="normal" text-anchor="end" fill="#000" >80%</text><text x="834.5" y="360.34" font-family='"Liberation Sans", sans-serif' font-size="29" font-weight="normal" text-anchor="end" fill="#000" >60%</text><text x="834.5" y="515.46" font-family='"Liberation Sans", sans-serif' font-size="29" font-weight="normal" text-anchor="end" fill="#000" >40%</text><text x="834.5" y="670.58" font-family='"Liberation Sans", sans-serif' font-size="29" font-weight="normal" text-anchor="end" fill="#000" >20%</text><text x="834.5" y="825.7" font-family='"Liberation Sans", sans-serif' font-size="29" font-weight="normal" text-anchor="end" fill="#000" >0%</text><text x="850.8" y="849.3" font-family='"Liberation Sans", sans-serif' font-size="29" font-weight="normal" text-anchor="middle" fill="#000" >0</text><text x="974.52" y="849.3" font-family='"Liberation Sans", sans-serif' font-size="29" font-weight="normal" text-anchor="middle" fill="#000" >5</text><text x="1098.24" y="849.3" font-family='"Liberation Sans", sans-serif' font-size="29" font-weight="normal" text-anchor="middle" fill="#000" >10</text><text x="1221.96" y="849.3" font-family='"Liberation Sans", sans-serif' font-size="29" font-weight="normal" text-anchor="middle" fill="#000" >15</text><text x="1345.68" y="849.3" font-family='"Liberation Sans", sans-serif' font-size="29" font-weight="normal" text-anchor="middle" fill="#000" >20</text><text x="1469.4" y="849.3" font-family='"Liberation Sans", sans-serif' font-size="29" font-weight="normal" text-anchor="middle" fill="#000" >25</text><text x="1159.2" y="891.7" font-family='"Liberation Sans", sans-serif' font-size="28" font-weight="normal" text-anchor="middle" fill="#000" >Time (min)</text><text x="0" y="0" font-family='"Liberation Sans", sans-serif' font-size="29.3" text-anchor="middle" transform="translate(740.2,431.3) rotate(-90)">Composition (%)</text><text x="716" y="40" font-family='"Liberation Sans", sans-serif' font-size="42" font-weight="bold" text-anchor="start" fill="#000" >b</text><circle cx="974.52" cy="110.7" r="12" fill="#1c457a"/><circle cx="1048.75" cy="173.2" r="12" fill="#1c457a"/><circle cx="1098.24" cy="153.8" r="12" fill="#1c457a"/><circle cx="1221.96" cy="261.3" r="12" fill="#1c457a"/><circle cx="1345.68" cy="299.4" r="12" fill="#1c457a"/><rect x="962.22" y="727.3" width="24.6" height="24" fill="#3434f6"/><rect x="1036.45" y="664.9" width="24.6" height="24" fill="#3434f6"/><rect x="1085.94" y="684" width="24.6" height="24" fill="#3434f6"/><rect x="1209.66" y="580.6" width="24.6" height="24" fill="#3434f6"/><rect x="1333.38" y="538" width="24.6" height="24" fill="#3434f6"/><path d="M974.94,102.48 977.56,105.1 980.18,107.72 982.8,110.34 985.42,112.96 988.04,115.58 990.66,118.2 993.28,120.82 995.9,123.44 998.52,126.06 1001.14,128.68 1003.76,131.3 1006.38,133.92 1009,136.54 1011.62,139.16 1014.24,141.78 1016.86,144.4 1019.48,147.02 1022.1,147.02 1024.72,149.64 1027.34,152.26 1029.96,154.88 1032.58,157.5 1035.2,157.5 1037.82,160.12 1040.44,162.74 1043.06,162.74 1045.68,165.36 1048.3,167.98 1050.92,170.6 1053.54,170.6 1056.16,173.22 1058.78,175.84 1061.4,175.84 1064.02,178.46 1066.64,178.46 1069.26,181.08 1071.88,183.7 1074.5,183.7 1077.12,186.32 1079.74,186.32 1082.36,188.94 1084.98,191.56 1087.6,191.56 1090.22,194.18 1092.84,194.18 1095.46,196.8 1098.08,196.8 1100.7,199.42 1103.32,202.04 1105.94,202.04 1108.56,204.66 1111.18,204.66 1113.8,207.28 1116.42,207.28 1119.04,209.9 1121.66,209.9 1124.28,212.52 1126.9,212.52 1129.52,215.14 1132.14,215.14 1134.76,217.76 1137.38,217.76 1140,217.76 1142.62,220.38 1145.24,220.38 1147.86,223 1150.48,223 1153.1,225.62 1155.72,225.62 1158.34,228.24 1160.96,228.24 1163.58,230.86 1166.2,230.86 1168.82,230.86 1171.44,233.48 1174.06,233.48 1176.68,236.1 1179.3,236.1 1181.92,236.1 1184.54,238.72 1187.16,238.72 1189.78,241.34 1192.4,241.34 1195.02,241.34 1197.64,243.96 1200.26,243.96 1202.88,246.58 1205.5,246.58 1208.12,246.58 1210.74,249.2 1213.36,249.2 1215.98,251.82 1218.6,251.82 1221.22,251.82 1223.84,254.44 1226.46,254.44 1229.08,254.44 1231.7,257.06 1234.32,257.06 1236.94,257.06 1239.56,259.68 1242.18,259.68 1244.8,259.68 1247.42,262.3 1250.04,262.3 1252.66,262.3 1255.28,264.92 1257.9,264.92 1260.52,264.92 1263.14,267.54 1265.76,267.54 1268.38,267.54 1271,270.16 1273.62,270.16 1276.24,270.16 1278.86,272.78 1281.48,272.78 1284.1,272.78 1286.72,275.4 1289.34,275.4 1291.96,275.4 1294.58,278.02 1297.2,278.02 1299.82,278.02 1302.44,280.64 1305.06,280.64 1307.68,280.64 1310.3,280.64 1312.92,283.26 1315.54,283.26 1318.16,283.26 1320.78,285.88 1323.4,285.88 1326.02,285.88 1328.64,285.88 1331.26,288.5 1333.88,288.5 1336.5,288.5 1339.12,291.12 1341.74,291.12 1344.36,291.12 1346.98,291.12" fill="none" stroke="#000" stroke-width="2.5" stroke-linejoin="miter"/><path d="M974.94,752.24 977.56,749.62 980.18,747 982.8,744.38 985.42,741.76 988.04,739.14 990.66,736.52 993.28,733.9 995.9,731.28 998.52,728.66 1001.14,726.04 1003.76,723.42 1006.38,720.8 1009,718.18 1011.62,715.56 1014.24,712.94 1016.86,710.32 1019.48,707.7 1022.1,707.7 1024.72,705.08 1027.34,702.46 1029.96,699.84 1032.58,697.22 1035.2,697.22 1037.82,694.6 1040.44,691.98 1043.06,691.98 1045.68,689.36 1048.3,686.74 1050.92,684.12 1053.54,684.12 1056.16,681.5 1058.78,678.88 1061.4,678.88 1064.02,676.26 1066.64,676.26 1069.26,673.64 1071.88,671.02 1074.5,671.02 1077.12,668.4 1079.74,665.78 1082.36,665.78 1084.98,663.16 1087.6,663.16 1090.22,660.54 1092.84,660.54 1095.46,657.92 1098.08,655.3 1100.7,655.3 1103.32,652.68 1105.94,652.68 1108.56,650.06 1111.18,650.06 1113.8,647.44 1116.42,647.44 1119.04,644.82 1121.66,644.82 1124.28,642.2 1126.9,642.2 1129.52,639.58 1132.14,639.58 1134.76,636.96 1137.38,636.96 1140,634.34 1142.62,634.34 1145.24,631.72 1147.86,631.72 1150.48,629.1 1153.1,629.1 1155.72,629.1 1158.34,626.48 1160.96,626.48 1163.58,623.86 1166.2,623.86 1168.82,621.24 1171.44,621.24 1174.06,618.62 1176.68,618.62 1179.3,618.62 1181.92,616 1184.54,616 1187.16,613.38 1189.78,613.38 1192.4,613.38 1195.02,610.76 1197.64,610.76 1200.26,608.14 1202.88,608.14 1205.5,608.14 1208.12,605.52 1210.74,605.52 1213.36,602.9 1215.98,602.9 1218.6,602.9 1221.22,600.28 1223.84,600.28 1226.46,600.28 1229.08,597.66 1231.7,597.66 1234.32,597.66 1236.94,595.04 1239.56,595.04 1242.18,592.42 1244.8,592.42 1247.42,592.42 1250.04,589.8 1252.66,589.8 1255.28,589.8 1257.9,587.18 1260.52,587.18 1263.14,587.18 1265.76,584.56 1268.38,584.56 1271,584.56 1273.62,581.94 1276.24,581.94 1278.86,581.94 1281.48,579.32 1284.1,579.32 1286.72,579.32 1289.34,579.32 1291.96,576.7 1294.58,576.7 1297.2,576.7 1299.82,574.08 1302.44,574.08 1305.06,574.08 1307.68,571.46 1310.3,571.46 1312.92,571.46 1315.54,571.46 1318.16,568.84 1320.78,568.84 1323.4,568.84 1326.02,566.22 1328.64,566.22 1331.26,566.22 1333.88,566.22 1336.5,563.6 1339.12,563.6 1341.74,563.6 1344.36,560.98 1346.98,560.98" fill="none" stroke="#000" stroke-width="2.5" stroke-linejoin="miter"/><circle cx="1304.5" cy="92" r="8.4" fill="#1c457a"/><rect x="1297" y="152" width="15.6" height="16" fill="#3b55f8"/><text x="1324.5" y="101.2" font-family='"Liberation Sans", sans-serif' font-size="29" font-weight="normal" text-anchor="start" fill="#000" >TnBPSe</text><text x="1324.5" y="168.6" font-family='"Liberation Sans", sans-serif' font-size="29" font-weight="normal" text-anchor="start" fill="#000" >TnBPO</text></svg>
</body></html>
